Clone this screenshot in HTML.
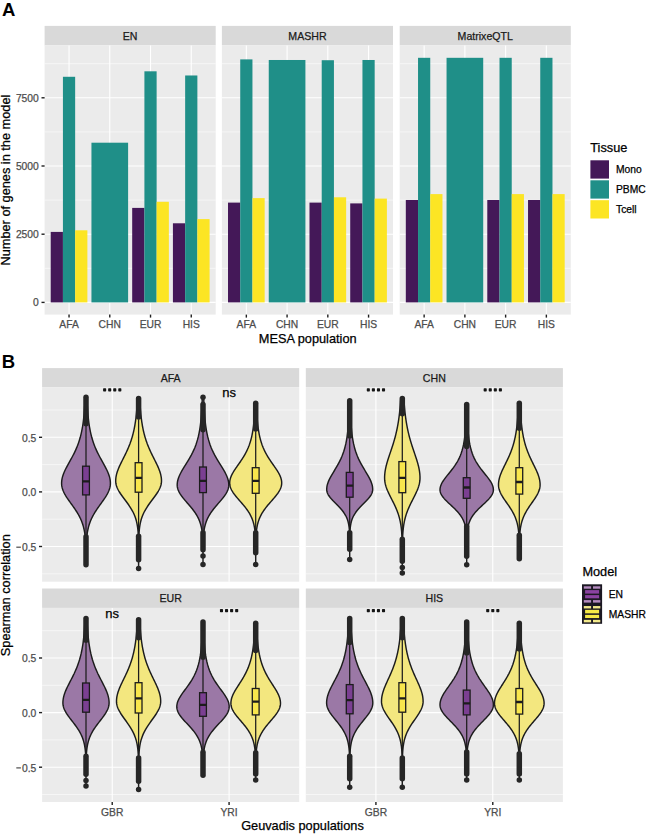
<!DOCTYPE html>
<html><head><meta charset="utf-8"><style>
html,body{margin:0;padding:0;background:#fff;}
svg{display:block;font-family:"Liberation Sans", sans-serif;}
</style></head><body>
<svg width="646" height="838" viewBox="0 0 646 838">
<rect width="646" height="838" fill="#fff"/>
<text x="1.9" y="16" font-size="18.5" fill="#000" font-weight="bold">A</text>
<rect x="44.6" y="25.9" width="171.1" height="19.5" fill="#D9D9D9"/>
<text x="130.15" y="39.8" font-size="10.6" fill="#1A1A1A" stroke="#1A1A1A" stroke-width="0.25" text-anchor="middle" font-weight="normal" >EN</text>
<rect x="44.6" y="45.4" width="171.1" height="269.2" fill="#EBEBEB"/>
<line x1="44.6" x2="215.7" y1="268.3" y2="268.3" stroke="#fff" stroke-width="0.55"/>
<line x1="44.6" x2="215.7" y1="200.1" y2="200.1" stroke="#fff" stroke-width="0.55"/>
<line x1="44.6" x2="215.7" y1="131.9" y2="131.9" stroke="#fff" stroke-width="0.55"/>
<line x1="44.6" x2="215.7" y1="63.7" y2="63.7" stroke="#fff" stroke-width="0.55"/>
<line x1="44.6" x2="215.7" y1="302.4" y2="302.4" stroke="#fff" stroke-width="1.1"/>
<line x1="44.6" x2="215.7" y1="234.2" y2="234.2" stroke="#fff" stroke-width="1.1"/>
<line x1="44.6" x2="215.7" y1="166" y2="166" stroke="#fff" stroke-width="1.1"/>
<line x1="44.6" x2="215.7" y1="97.8" y2="97.8" stroke="#fff" stroke-width="1.1"/>
<line x1="69.04" x2="69.04" y1="45.4" y2="314.6" stroke="#fff" stroke-width="1.1"/>
<line x1="109.78" x2="109.78" y1="45.4" y2="314.6" stroke="#fff" stroke-width="1.1"/>
<line x1="150.52" x2="150.52" y1="45.4" y2="314.6" stroke="#fff" stroke-width="1.1"/>
<line x1="191.26" x2="191.26" y1="45.4" y2="314.6" stroke="#fff" stroke-width="1.1"/>
<rect x="50.71" y="231.91" width="12.22" height="70.49" fill="#441858"/>
<rect x="62.93" y="76.79" width="12.22" height="225.61" fill="#1F8F88"/>
<rect x="75.15" y="230.3" width="12.22" height="72.1" fill="#FCE524"/>
<line x1="69.04" x2="69.04" y1="314.6" y2="317.6" stroke="#1F1F1F" stroke-width="1.4"/>
<text x="69.04" y="328.2" font-size="10.3" fill="#4D4D4D" stroke="#4D4D4D" stroke-width="0.25" text-anchor="middle" font-weight="normal" >AFA</text>
<rect x="91.45" y="142.7" width="36.66" height="159.7" fill="#1F8F88"/>
<line x1="109.78" x2="109.78" y1="314.6" y2="317.6" stroke="#1F1F1F" stroke-width="1.4"/>
<text x="109.78" y="328.2" font-size="10.3" fill="#4D4D4D" stroke="#4D4D4D" stroke-width="0.25" text-anchor="middle" font-weight="normal" >CHN</text>
<rect x="132.19" y="207.9" width="12.22" height="94.5" fill="#441858"/>
<rect x="144.41" y="71.31" width="12.22" height="231.09" fill="#1F8F88"/>
<rect x="156.63" y="201.79" width="12.22" height="100.61" fill="#FCE524"/>
<line x1="150.52" x2="150.52" y1="314.6" y2="317.6" stroke="#1F1F1F" stroke-width="1.4"/>
<text x="150.52" y="328.2" font-size="10.3" fill="#4D4D4D" stroke="#4D4D4D" stroke-width="0.25" text-anchor="middle" font-weight="normal" >EUR</text>
<rect x="172.92" y="223.29" width="12.22" height="79.11" fill="#441858"/>
<rect x="185.15" y="75.48" width="12.22" height="226.92" fill="#1F8F88"/>
<rect x="197.37" y="219.09" width="12.22" height="83.31" fill="#FCE524"/>
<line x1="191.26" x2="191.26" y1="314.6" y2="317.6" stroke="#1F1F1F" stroke-width="1.4"/>
<text x="191.26" y="328.2" font-size="10.3" fill="#4D4D4D" stroke="#4D4D4D" stroke-width="0.25" text-anchor="middle" font-weight="normal" >HIS</text>
<rect x="221.9" y="25.9" width="171.1" height="19.5" fill="#D9D9D9"/>
<text x="307.45" y="39.8" font-size="10.6" fill="#1A1A1A" stroke="#1A1A1A" stroke-width="0.25" text-anchor="middle" font-weight="normal" >MASHR</text>
<rect x="221.9" y="45.4" width="171.1" height="269.2" fill="#EBEBEB"/>
<line x1="221.9" x2="393" y1="268.3" y2="268.3" stroke="#fff" stroke-width="0.55"/>
<line x1="221.9" x2="393" y1="200.1" y2="200.1" stroke="#fff" stroke-width="0.55"/>
<line x1="221.9" x2="393" y1="131.9" y2="131.9" stroke="#fff" stroke-width="0.55"/>
<line x1="221.9" x2="393" y1="63.7" y2="63.7" stroke="#fff" stroke-width="0.55"/>
<line x1="221.9" x2="393" y1="302.4" y2="302.4" stroke="#fff" stroke-width="1.1"/>
<line x1="221.9" x2="393" y1="234.2" y2="234.2" stroke="#fff" stroke-width="1.1"/>
<line x1="221.9" x2="393" y1="166" y2="166" stroke="#fff" stroke-width="1.1"/>
<line x1="221.9" x2="393" y1="97.8" y2="97.8" stroke="#fff" stroke-width="1.1"/>
<line x1="246.34" x2="246.34" y1="45.4" y2="314.6" stroke="#fff" stroke-width="1.1"/>
<line x1="287.08" x2="287.08" y1="45.4" y2="314.6" stroke="#fff" stroke-width="1.1"/>
<line x1="327.82" x2="327.82" y1="45.4" y2="314.6" stroke="#fff" stroke-width="1.1"/>
<line x1="368.56" x2="368.56" y1="45.4" y2="314.6" stroke="#fff" stroke-width="1.1"/>
<rect x="228.01" y="202.61" width="12.22" height="99.79" fill="#441858"/>
<rect x="240.23" y="59.39" width="12.22" height="243.01" fill="#1F8F88"/>
<rect x="252.45" y="198.11" width="12.22" height="104.29" fill="#FCE524"/>
<line x1="246.34" x2="246.34" y1="314.6" y2="317.6" stroke="#1F1F1F" stroke-width="1.4"/>
<text x="246.34" y="328.2" font-size="10.3" fill="#4D4D4D" stroke="#4D4D4D" stroke-width="0.25" text-anchor="middle" font-weight="normal" >AFA</text>
<rect x="268.75" y="59.99" width="36.66" height="242.41" fill="#1F8F88"/>
<line x1="287.08" x2="287.08" y1="314.6" y2="317.6" stroke="#1F1F1F" stroke-width="1.4"/>
<text x="287.08" y="328.2" font-size="10.3" fill="#4D4D4D" stroke="#4D4D4D" stroke-width="0.25" text-anchor="middle" font-weight="normal" >CHN</text>
<rect x="309.49" y="202.61" width="12.22" height="99.79" fill="#441858"/>
<rect x="321.71" y="60.21" width="12.22" height="242.19" fill="#1F8F88"/>
<rect x="333.93" y="197.29" width="12.22" height="105.11" fill="#FCE524"/>
<line x1="327.82" x2="327.82" y1="314.6" y2="317.6" stroke="#1F1F1F" stroke-width="1.4"/>
<text x="327.82" y="328.2" font-size="10.3" fill="#4D4D4D" stroke="#4D4D4D" stroke-width="0.25" text-anchor="middle" font-weight="normal" >EUR</text>
<rect x="350.22" y="203.4" width="12.22" height="99" fill="#441858"/>
<rect x="362.45" y="59.99" width="12.22" height="242.41" fill="#1F8F88"/>
<rect x="374.67" y="198.6" width="12.22" height="103.8" fill="#FCE524"/>
<line x1="368.56" x2="368.56" y1="314.6" y2="317.6" stroke="#1F1F1F" stroke-width="1.4"/>
<text x="368.56" y="328.2" font-size="10.3" fill="#4D4D4D" stroke="#4D4D4D" stroke-width="0.25" text-anchor="middle" font-weight="normal" >HIS</text>
<rect x="399.7" y="25.9" width="171.1" height="19.5" fill="#D9D9D9"/>
<text x="485.25" y="39.8" font-size="10.6" fill="#1A1A1A" stroke="#1A1A1A" stroke-width="0.25" text-anchor="middle" font-weight="normal" >MatrixeQTL</text>
<rect x="399.7" y="45.4" width="171.1" height="269.2" fill="#EBEBEB"/>
<line x1="399.7" x2="570.8" y1="268.3" y2="268.3" stroke="#fff" stroke-width="0.55"/>
<line x1="399.7" x2="570.8" y1="200.1" y2="200.1" stroke="#fff" stroke-width="0.55"/>
<line x1="399.7" x2="570.8" y1="131.9" y2="131.9" stroke="#fff" stroke-width="0.55"/>
<line x1="399.7" x2="570.8" y1="63.7" y2="63.7" stroke="#fff" stroke-width="0.55"/>
<line x1="399.7" x2="570.8" y1="302.4" y2="302.4" stroke="#fff" stroke-width="1.1"/>
<line x1="399.7" x2="570.8" y1="234.2" y2="234.2" stroke="#fff" stroke-width="1.1"/>
<line x1="399.7" x2="570.8" y1="166" y2="166" stroke="#fff" stroke-width="1.1"/>
<line x1="399.7" x2="570.8" y1="97.8" y2="97.8" stroke="#fff" stroke-width="1.1"/>
<line x1="424.14" x2="424.14" y1="45.4" y2="314.6" stroke="#fff" stroke-width="1.1"/>
<line x1="464.88" x2="464.88" y1="45.4" y2="314.6" stroke="#fff" stroke-width="1.1"/>
<line x1="505.62" x2="505.62" y1="45.4" y2="314.6" stroke="#fff" stroke-width="1.1"/>
<line x1="546.36" x2="546.36" y1="45.4" y2="314.6" stroke="#fff" stroke-width="1.1"/>
<rect x="405.81" y="199.99" width="12.22" height="102.41" fill="#441858"/>
<rect x="418.03" y="57.81" width="12.22" height="244.59" fill="#1F8F88"/>
<rect x="430.25" y="194.1" width="12.22" height="108.3" fill="#FCE524"/>
<line x1="424.14" x2="424.14" y1="314.6" y2="317.6" stroke="#1F1F1F" stroke-width="1.4"/>
<text x="424.14" y="328.2" font-size="10.3" fill="#4D4D4D" stroke="#4D4D4D" stroke-width="0.25" text-anchor="middle" font-weight="normal" >AFA</text>
<rect x="446.55" y="57.81" width="36.66" height="244.59" fill="#1F8F88"/>
<line x1="464.88" x2="464.88" y1="314.6" y2="317.6" stroke="#1F1F1F" stroke-width="1.4"/>
<text x="464.88" y="328.2" font-size="10.3" fill="#4D4D4D" stroke="#4D4D4D" stroke-width="0.25" text-anchor="middle" font-weight="normal" >CHN</text>
<rect x="487.29" y="199.99" width="12.22" height="102.41" fill="#441858"/>
<rect x="499.51" y="57.81" width="12.22" height="244.59" fill="#1F8F88"/>
<rect x="511.73" y="194.1" width="12.22" height="108.3" fill="#FCE524"/>
<line x1="505.62" x2="505.62" y1="314.6" y2="317.6" stroke="#1F1F1F" stroke-width="1.4"/>
<text x="505.62" y="328.2" font-size="10.3" fill="#4D4D4D" stroke="#4D4D4D" stroke-width="0.25" text-anchor="middle" font-weight="normal" >EUR</text>
<rect x="528.03" y="199.99" width="12.22" height="102.41" fill="#441858"/>
<rect x="540.25" y="57.81" width="12.22" height="244.59" fill="#1F8F88"/>
<rect x="552.47" y="194.1" width="12.22" height="108.3" fill="#FCE524"/>
<line x1="546.36" x2="546.36" y1="314.6" y2="317.6" stroke="#1F1F1F" stroke-width="1.4"/>
<text x="546.36" y="328.2" font-size="10.3" fill="#4D4D4D" stroke="#4D4D4D" stroke-width="0.25" text-anchor="middle" font-weight="normal" >HIS</text>
<line x1="41.5" x2="44.6" y1="302.4" y2="302.4" stroke="#1F1F1F" stroke-width="1.4"/>
<text x="38.8" y="306.2" font-size="10.3" fill="#4D4D4D" stroke="#4D4D4D" stroke-width="0.25" text-anchor="end" font-weight="normal" >0</text>
<line x1="41.5" x2="44.6" y1="234.2" y2="234.2" stroke="#1F1F1F" stroke-width="1.4"/>
<text x="38.8" y="238" font-size="10.3" fill="#4D4D4D" stroke="#4D4D4D" stroke-width="0.25" text-anchor="end" font-weight="normal" >2500</text>
<line x1="41.5" x2="44.6" y1="166" y2="166" stroke="#1F1F1F" stroke-width="1.4"/>
<text x="38.8" y="169.8" font-size="10.3" fill="#4D4D4D" stroke="#4D4D4D" stroke-width="0.25" text-anchor="end" font-weight="normal" >5000</text>
<line x1="41.5" x2="44.6" y1="97.8" y2="97.8" stroke="#1F1F1F" stroke-width="1.4"/>
<text x="38.8" y="101.6" font-size="10.3" fill="#4D4D4D" stroke="#4D4D4D" stroke-width="0.25" text-anchor="end" font-weight="normal" >7500</text>
<text x="307.7" y="342.5" font-size="12.75" fill="#000" stroke="#000" stroke-width="0.25" text-anchor="middle" font-weight="normal" >MESA population</text>
<text transform="translate(9.9,180.1) rotate(-90)" x="0" y="0" font-size="12.75" fill="#000" stroke="#000" stroke-width="0.25" text-anchor="middle">Number of genes in the model</text>
<text x="590.3" y="152" font-size="12.75" fill="#000" stroke="#000" stroke-width="0.25" text-anchor="start" font-weight="normal" >Tissue</text>
<rect x="590.4" y="160.3" width="18.6" height="18.3" fill="#441858"/>
<text x="616" y="173.3" font-size="10.3" fill="#000" stroke="#000" stroke-width="0.25" text-anchor="start" font-weight="normal" >Mono</text>
<rect x="590.4" y="180.3" width="18.6" height="18.3" fill="#1F8F88"/>
<text x="616" y="193.3" font-size="10.3" fill="#000" stroke="#000" stroke-width="0.25" text-anchor="start" font-weight="normal" >PBMC</text>
<rect x="590.4" y="200.2" width="18.6" height="18.3" fill="#FCE524"/>
<text x="616" y="213.2" font-size="10.3" fill="#000" stroke="#000" stroke-width="0.25" text-anchor="start" font-weight="normal" >Tcell</text>
<text x="1.7" y="368" font-size="18.5" fill="#000" font-weight="bold">B</text>
<rect x="42.1" y="368.1" width="257.1" height="19" fill="#D9D9D9"/>
<text x="170.65" y="381.7" font-size="10.6" fill="#1A1A1A" stroke="#1A1A1A" stroke-width="0.25" text-anchor="middle" font-weight="normal" >AFA</text>
<rect x="42.1" y="387.1" width="257.1" height="194.6" fill="#EBEBEB"/>
<line x1="42.1" x2="299.2" y1="573.8" y2="573.8" stroke="#fff" stroke-width="0.55"/>
<line x1="42.1" x2="299.2" y1="519.2" y2="519.2" stroke="#fff" stroke-width="0.55"/>
<line x1="42.1" x2="299.2" y1="464.6" y2="464.6" stroke="#fff" stroke-width="0.55"/>
<line x1="42.1" x2="299.2" y1="410" y2="410" stroke="#fff" stroke-width="0.55"/>
<line x1="42.1" x2="299.2" y1="546.5" y2="546.5" stroke="#fff" stroke-width="1.1"/>
<line x1="42.1" x2="299.2" y1="491.9" y2="491.9" stroke="#fff" stroke-width="1.1"/>
<line x1="42.1" x2="299.2" y1="437.3" y2="437.3" stroke="#fff" stroke-width="1.1"/>
<line x1="112.22" x2="112.22" y1="387.1" y2="581.7" stroke="#fff" stroke-width="1.1"/>
<line x1="229.08" x2="229.08" y1="387.1" y2="581.7" stroke="#fff" stroke-width="1.1"/>
<g clip-path="url(#clipB00)">
<clipPath id="clipB00"><rect x="42.1" y="387.1" width="257.1" height="194.6"/></clipPath>
<path d="M86.9,397.25 L86.95,398.48 L87,399.71 L87.06,400.94 L87.12,402.17 L87.18,403.4 L87.24,404.63 L87.31,405.86 L87.39,407.08 L87.47,408.31 L87.55,409.54 L87.64,410.77 L87.73,412 L87.83,413.23 L87.94,414.46 L88.05,415.69 L88.18,416.92 L88.3,418.15 L88.44,419.38 L88.59,420.61 L88.74,421.84 L88.91,423.06 L89.08,424.29 L89.27,425.52 L89.47,426.75 L89.68,427.98 L89.9,429.21 L90.14,430.44 L90.39,431.67 L90.66,432.9 L90.94,434.13 L91.24,435.36 L91.56,436.59 L91.89,437.82 L92.25,439.05 L92.62,440.27 L93.02,441.5 L93.43,442.73 L93.87,443.96 L94.33,445.19 L94.81,446.42 L95.31,447.65 L95.84,448.88 L96.38,450.11 L96.95,451.34 L97.54,452.57 L98.14,453.8 L98.77,455.03 L99.41,456.26 L100.07,457.49 L100.73,458.71 L101.41,459.94 L102.1,461.17 L102.78,462.4 L103.47,463.63 L104.15,464.86 L104.82,466.09 L105.47,467.32 L106.11,468.55 L106.72,469.78 L107.3,471.01 L107.84,472.24 L108.35,473.47 L108.81,474.69 L109.21,475.92 L109.57,477.15 L109.86,478.38 L110.1,479.61 L110.26,480.84 L110.37,482.07 L110.4,483.3 L110.36,484.47 L110.24,485.63 L110.05,486.8 L109.78,487.96 L109.43,489.12 L109.02,490.29 L108.54,491.46 L108,492.62 L107.41,493.79 L106.76,494.95 L106.07,496.12 L105.34,497.28 L104.57,498.44 L103.78,499.61 L102.97,500.78 L102.14,501.94 L101.3,503.11 L100.46,504.27 L99.62,505.44 L98.79,506.6 L97.97,507.76 L97.17,508.93 L96.39,510.1 L95.63,511.26 L94.89,512.43 L94.19,513.59 L93.52,514.75 L92.88,515.92 L92.27,517.09 L91.7,518.25 L91.17,519.41 L90.67,520.58 L90.2,521.75 L89.77,522.91 L89.38,524.08 L89.01,525.24 L88.67,526.4 L88.37,527.57 L88.09,528.74 L87.84,529.9 L87.62,531.07 L87.41,532.23 L87.23,533.39 L87.07,534.56 L86.93,535.73 L86.8,536.89 L86.69,538.06 L86.59,539.22 L86.51,540.38 L86.43,541.55 L86.37,542.72 L86.31,543.88 L86.26,545.05 L86.22,546.21 L86.18,547.38 L86.15,548.54 L86.13,549.71 L86.11,550.87 L86.09,552.04 L86.07,553.2 L86.06,554.37 L86.05,555.53 L86.04,556.7 L86.03,557.86 L86.03,559.02 L86.02,560.19 L86.02,561.36 L86.01,562.52 L86.01,563.69 L86.01,564.85 L85.99,564.85 L85.99,563.69 L85.99,562.52 L85.98,561.36 L85.98,560.19 L85.97,559.02 L85.97,557.86 L85.96,556.7 L85.95,555.53 L85.94,554.37 L85.93,553.2 L85.91,552.04 L85.89,550.87 L85.87,549.71 L85.85,548.54 L85.82,547.38 L85.78,546.21 L85.74,545.05 L85.69,543.88 L85.63,542.72 L85.57,541.55 L85.49,540.38 L85.41,539.22 L85.31,538.06 L85.2,536.89 L85.07,535.73 L84.93,534.56 L84.77,533.39 L84.59,532.23 L84.38,531.07 L84.16,529.9 L83.91,528.74 L83.63,527.57 L83.33,526.4 L82.99,525.24 L82.62,524.08 L82.23,522.91 L81.8,521.75 L81.33,520.58 L80.83,519.41 L80.3,518.25 L79.73,517.09 L79.12,515.92 L78.48,514.75 L77.81,513.59 L77.11,512.43 L76.37,511.26 L75.61,510.1 L74.83,508.93 L74.03,507.76 L73.21,506.6 L72.38,505.44 L71.54,504.27 L70.7,503.11 L69.86,501.94 L69.03,500.78 L68.22,499.61 L67.43,498.44 L66.66,497.28 L65.93,496.12 L65.24,494.95 L64.59,493.79 L64,492.62 L63.46,491.46 L62.98,490.29 L62.57,489.12 L62.22,487.96 L61.95,486.8 L61.76,485.63 L61.64,484.47 L61.6,483.3 L61.63,482.07 L61.74,480.84 L61.9,479.61 L62.14,478.38 L62.43,477.15 L62.79,475.92 L63.19,474.69 L63.65,473.47 L64.16,472.24 L64.7,471.01 L65.28,469.78 L65.89,468.55 L66.53,467.32 L67.18,466.09 L67.85,464.86 L68.53,463.63 L69.22,462.4 L69.9,461.17 L70.59,459.94 L71.27,458.71 L71.93,457.49 L72.59,456.26 L73.23,455.03 L73.86,453.8 L74.46,452.57 L75.05,451.34 L75.62,450.11 L76.16,448.88 L76.69,447.65 L77.19,446.42 L77.67,445.19 L78.13,443.96 L78.57,442.73 L78.98,441.5 L79.38,440.27 L79.75,439.05 L80.11,437.82 L80.44,436.59 L80.76,435.36 L81.06,434.13 L81.34,432.9 L81.61,431.67 L81.86,430.44 L82.1,429.21 L82.32,427.98 L82.53,426.75 L82.73,425.52 L82.92,424.29 L83.09,423.06 L83.26,421.84 L83.41,420.61 L83.56,419.38 L83.7,418.15 L83.82,416.92 L83.95,415.69 L84.06,414.46 L84.17,413.23 L84.27,412 L84.36,410.77 L84.45,409.54 L84.53,408.31 L84.61,407.08 L84.69,405.86 L84.76,404.63 L84.82,403.4 L84.88,402.17 L84.94,400.94 L85,399.71 L85.05,398.48 L85.1,397.25Z" fill="#9B78A6" stroke="#1C1C1C" stroke-width="1.45" stroke-linejoin="round"/>
<line x1="86" x2="86" y1="425.9" y2="534.5" stroke="#1C1C1C" stroke-width="1.25"/>
<rect x="82.6" y="466.2" width="6.8" height="28.7" fill="#7B3F92" stroke="#1C1C1C" stroke-width="1.3"/>
<line x1="82.6" x2="89.4" y1="481.4" y2="481.4" stroke="#1C1C1C" stroke-width="2.3"/>
<line x1="86" x2="86" y1="397.25" y2="423.65" stroke="#262626" stroke-width="5.5" stroke-linecap="round"/>
<line x1="86" x2="86" y1="536.75" y2="564.85" stroke="#262626" stroke-width="5.5" stroke-linecap="round"/>
<path d="M139.73,398.45 L139.78,399.63 L139.84,400.81 L139.91,401.99 L139.98,403.17 L140.05,404.35 L140.13,405.53 L140.21,406.7 L140.29,407.88 L140.39,409.06 L140.48,410.24 L140.58,411.42 L140.69,412.6 L140.81,413.78 L140.93,414.96 L141.06,416.14 L141.19,417.32 L141.33,418.5 L141.49,419.68 L141.65,420.86 L141.82,422.04 L142,423.21 L142.19,424.39 L142.39,425.57 L142.6,426.75 L142.83,427.93 L143.06,429.11 L143.31,430.29 L143.58,431.47 L143.86,432.65 L144.15,433.83 L144.46,435.01 L144.78,436.19 L145.12,437.37 L145.48,438.55 L145.85,439.73 L146.24,440.9 L146.65,442.08 L147.07,443.26 L147.52,444.44 L147.98,445.62 L148.46,446.8 L148.95,447.98 L149.46,449.16 L149.99,450.34 L150.53,451.52 L151.08,452.7 L151.65,453.88 L152.23,455.06 L152.81,456.24 L153.4,457.41 L153.99,458.59 L154.59,459.77 L155.18,460.95 L155.77,462.13 L156.35,463.31 L156.92,464.49 L157.47,465.67 L158,466.85 L158.5,468.03 L158.98,469.21 L159.43,470.39 L159.84,471.57 L160.21,472.75 L160.55,473.92 L160.83,475.1 L161.07,476.28 L161.26,477.46 L161.39,478.64 L161.47,479.82 L161.5,481 L161.45,482.25 L161.29,483.5 L161.03,484.75 L160.68,486.01 L160.23,487.26 L159.69,488.51 L159.07,489.76 L158.38,491.01 L157.63,492.26 L156.82,493.51 L155.96,494.77 L155.07,496.02 L154.16,497.27 L153.22,498.52 L152.29,499.77 L151.35,501.02 L150.42,502.27 L149.51,503.53 L148.63,504.78 L147.77,506.03 L146.95,507.28 L146.17,508.53 L145.43,509.78 L144.73,511.03 L144.08,512.29 L143.48,513.54 L142.92,514.79 L142.41,516.04 L141.94,517.29 L141.52,518.54 L141.14,519.79 L140.8,521.05 L140.5,522.3 L140.23,523.55 L139.99,524.8 L139.78,526.05 L139.6,527.3 L139.44,528.55 L139.31,529.81 L139.19,531.06 L139.09,532.31 L139,533.56 L138.93,534.81 L138.87,536.06 L138.82,537.31 L138.78,538.57 L138.75,539.82 L138.72,541.07 L138.69,542.32 L138.68,543.57 L138.66,544.82 L138.65,546.07 L138.64,547.33 L138.63,548.58 L138.62,549.83 L138.62,551.08 L138.61,552.33 L138.61,553.58 L138.61,554.83 L138.61,556.09 L138.6,557.34 L138.6,558.59 L138.6,559.84 L138.6,561.09 L138.6,562.34 L138.6,563.59 L138.6,564.85 L138.6,566.1 L138.6,567.35 L138.6,568.6 L138.6,568.6 L138.6,567.35 L138.6,566.1 L138.6,564.85 L138.6,563.59 L138.6,562.34 L138.6,561.09 L138.6,559.84 L138.6,558.59 L138.6,557.34 L138.59,556.09 L138.59,554.83 L138.59,553.58 L138.59,552.33 L138.58,551.08 L138.58,549.83 L138.57,548.58 L138.56,547.33 L138.55,546.07 L138.54,544.82 L138.52,543.57 L138.51,542.32 L138.48,541.07 L138.45,539.82 L138.42,538.57 L138.38,537.31 L138.33,536.06 L138.27,534.81 L138.2,533.56 L138.11,532.31 L138.01,531.06 L137.89,529.81 L137.76,528.55 L137.6,527.3 L137.42,526.05 L137.21,524.8 L136.97,523.55 L136.7,522.3 L136.4,521.05 L136.06,519.79 L135.68,518.54 L135.26,517.29 L134.79,516.04 L134.28,514.79 L133.72,513.54 L133.12,512.29 L132.47,511.03 L131.77,509.78 L131.03,508.53 L130.25,507.28 L129.43,506.03 L128.57,504.78 L127.69,503.53 L126.78,502.27 L125.85,501.02 L124.91,499.77 L123.98,498.52 L123.04,497.27 L122.13,496.02 L121.24,494.77 L120.38,493.51 L119.57,492.26 L118.82,491.01 L118.13,489.76 L117.51,488.51 L116.97,487.26 L116.52,486.01 L116.17,484.75 L115.91,483.5 L115.75,482.25 L115.7,481 L115.73,479.82 L115.81,478.64 L115.94,477.46 L116.13,476.28 L116.37,475.1 L116.65,473.92 L116.99,472.75 L117.36,471.57 L117.77,470.39 L118.22,469.21 L118.7,468.03 L119.2,466.85 L119.73,465.67 L120.28,464.49 L120.85,463.31 L121.43,462.13 L122.02,460.95 L122.61,459.77 L123.21,458.59 L123.8,457.41 L124.39,456.24 L124.97,455.06 L125.55,453.88 L126.12,452.7 L126.67,451.52 L127.21,450.34 L127.74,449.16 L128.25,447.98 L128.74,446.8 L129.22,445.62 L129.68,444.44 L130.13,443.26 L130.55,442.08 L130.96,440.9 L131.35,439.73 L131.72,438.55 L132.08,437.37 L132.42,436.19 L132.74,435.01 L133.05,433.83 L133.34,432.65 L133.62,431.47 L133.89,430.29 L134.14,429.11 L134.37,427.93 L134.6,426.75 L134.81,425.57 L135.01,424.39 L135.2,423.21 L135.38,422.04 L135.55,420.86 L135.71,419.68 L135.87,418.5 L136.01,417.32 L136.14,416.14 L136.27,414.96 L136.39,413.78 L136.51,412.6 L136.62,411.42 L136.72,410.24 L136.81,409.06 L136.91,407.88 L136.99,406.7 L137.07,405.53 L137.15,404.35 L137.22,403.17 L137.29,401.99 L137.36,400.81 L137.42,399.63 L137.47,398.45Z" fill="#F3E77F" stroke="#1C1C1C" stroke-width="1.45" stroke-linejoin="round"/>
<line x1="138.6" x2="138.6" y1="419.3" y2="534.1" stroke="#1C1C1C" stroke-width="1.25"/>
<rect x="135.2" y="462.7" width="6.8" height="29.5" fill="#F8E64C" stroke="#1C1C1C" stroke-width="1.3"/>
<line x1="135.2" x2="142" y1="477.8" y2="477.8" stroke="#1C1C1C" stroke-width="2.3"/>
<line x1="138.6" x2="138.6" y1="398.45" y2="417.05" stroke="#262626" stroke-width="5.5" stroke-linecap="round"/>
<line x1="138.6" x2="138.6" y1="536.35" y2="559.65" stroke="#262626" stroke-width="5.5" stroke-linecap="round"/>
<circle cx="138.6" cy="568.6" r="2.75" fill="#262626"/>
<path d="M203.71,397.3 L203.75,398.55 L203.79,399.81 L203.84,401.06 L203.89,402.31 L203.94,403.56 L203.99,404.82 L204.05,406.07 L204.12,407.32 L204.18,408.58 L204.25,409.83 L204.33,411.08 L204.41,412.33 L204.5,413.59 L204.59,414.84 L204.69,416.09 L204.79,417.35 L204.9,418.6 L205.02,419.85 L205.15,421.1 L205.29,422.36 L205.44,423.61 L205.59,424.86 L205.76,426.12 L205.94,427.37 L206.13,428.62 L206.34,429.87 L206.56,431.13 L206.79,432.38 L207.04,433.63 L207.31,434.89 L207.59,436.14 L207.9,437.39 L208.22,438.64 L208.56,439.9 L208.93,441.15 L209.32,442.4 L209.73,443.66 L210.16,444.91 L210.63,446.16 L211.11,447.41 L211.63,448.67 L212.17,449.92 L212.74,451.17 L213.33,452.43 L213.96,453.68 L214.6,454.93 L215.28,456.18 L215.98,457.44 L216.7,458.69 L217.43,459.94 L218.19,461.2 L218.96,462.45 L219.74,463.7 L220.52,464.95 L221.31,466.21 L222.09,467.46 L222.85,468.71 L223.6,469.97 L224.33,471.22 L225.02,472.47 L225.68,473.72 L226.29,474.98 L226.84,476.23 L227.34,477.48 L227.78,478.74 L228.14,479.99 L228.42,481.24 L228.63,482.49 L228.76,483.75 L228.8,485 L228.75,486.13 L228.6,487.27 L228.34,488.4 L227.99,489.54 L227.55,490.67 L227.02,491.81 L226.41,492.94 L225.72,494.07 L224.97,495.21 L224.15,496.34 L223.29,497.48 L222.38,498.61 L221.45,499.75 L220.48,500.88 L219.5,502.01 L218.52,503.15 L217.54,504.28 L216.56,505.42 L215.6,506.55 L214.66,507.69 L213.75,508.82 L212.87,509.95 L212.03,511.09 L211.22,512.22 L210.46,513.36 L209.74,514.49 L209.07,515.63 L208.44,516.76 L207.86,517.89 L207.32,519.03 L206.83,520.16 L206.38,521.3 L205.97,522.43 L205.6,523.57 L205.27,524.7 L204.97,525.83 L204.7,526.97 L204.47,528.1 L204.26,529.24 L204.08,530.37 L203.92,531.51 L203.78,532.64 L203.66,533.77 L203.55,534.91 L203.46,536.04 L203.39,537.18 L203.32,538.31 L203.27,539.45 L203.22,540.58 L203.18,541.71 L203.15,542.85 L203.12,543.98 L203.1,545.12 L203.08,546.25 L203.06,547.39 L203.05,548.52 L203.04,549.65 L203.03,550.79 L203.03,551.92 L203.02,553.06 L203.02,554.19 L203.01,555.33 L203.01,556.46 L203.01,557.59 L203.01,558.73 L203,559.86 L203,561 L203,562.13 L203,563.27 L203,564.4 L203,564.4 L203,563.27 L203,562.13 L203,561 L203,559.86 L202.99,558.73 L202.99,557.59 L202.99,556.46 L202.99,555.33 L202.98,554.19 L202.98,553.06 L202.97,551.92 L202.97,550.79 L202.96,549.65 L202.95,548.52 L202.94,547.39 L202.92,546.25 L202.9,545.12 L202.88,543.98 L202.85,542.85 L202.82,541.71 L202.78,540.58 L202.73,539.45 L202.68,538.31 L202.61,537.18 L202.54,536.04 L202.45,534.91 L202.34,533.77 L202.22,532.64 L202.08,531.51 L201.92,530.37 L201.74,529.24 L201.53,528.1 L201.3,526.97 L201.03,525.83 L200.73,524.7 L200.4,523.57 L200.03,522.43 L199.62,521.3 L199.17,520.16 L198.68,519.03 L198.14,517.89 L197.56,516.76 L196.93,515.63 L196.26,514.49 L195.54,513.36 L194.78,512.22 L193.97,511.09 L193.13,509.95 L192.25,508.82 L191.34,507.69 L190.4,506.55 L189.44,505.42 L188.46,504.28 L187.48,503.15 L186.5,502.01 L185.52,500.88 L184.55,499.75 L183.62,498.61 L182.71,497.48 L181.85,496.34 L181.03,495.21 L180.28,494.07 L179.59,492.94 L178.98,491.81 L178.45,490.67 L178.01,489.54 L177.66,488.4 L177.4,487.27 L177.25,486.13 L177.2,485 L177.24,483.75 L177.37,482.49 L177.58,481.24 L177.86,479.99 L178.22,478.74 L178.66,477.48 L179.16,476.23 L179.71,474.98 L180.32,473.72 L180.98,472.47 L181.67,471.22 L182.4,469.97 L183.15,468.71 L183.91,467.46 L184.69,466.21 L185.48,464.95 L186.26,463.7 L187.04,462.45 L187.81,461.2 L188.57,459.94 L189.3,458.69 L190.02,457.44 L190.72,456.18 L191.4,454.93 L192.04,453.68 L192.67,452.43 L193.26,451.17 L193.83,449.92 L194.37,448.67 L194.89,447.41 L195.37,446.16 L195.84,444.91 L196.27,443.66 L196.68,442.4 L197.07,441.15 L197.44,439.9 L197.78,438.64 L198.1,437.39 L198.41,436.14 L198.69,434.89 L198.96,433.63 L199.21,432.38 L199.44,431.13 L199.66,429.87 L199.87,428.62 L200.06,427.37 L200.24,426.12 L200.41,424.86 L200.56,423.61 L200.71,422.36 L200.85,421.1 L200.98,419.85 L201.1,418.6 L201.21,417.35 L201.31,416.09 L201.41,414.84 L201.5,413.59 L201.59,412.33 L201.67,411.08 L201.75,409.83 L201.82,408.58 L201.88,407.32 L201.95,406.07 L202.01,404.82 L202.06,403.56 L202.11,402.31 L202.16,401.06 L202.21,399.81 L202.25,398.55 L202.29,397.3Z" fill="#9B78A6" stroke="#1C1C1C" stroke-width="1.45" stroke-linejoin="round"/>
<line x1="203" x2="203" y1="432.1" y2="530.6" stroke="#1C1C1C" stroke-width="1.25"/>
<rect x="199.6" y="467" width="6.8" height="25.6" fill="#7B3F92" stroke="#1C1C1C" stroke-width="1.3"/>
<line x1="199.6" x2="206.4" y1="480.9" y2="480.9" stroke="#1C1C1C" stroke-width="2.3"/>
<line x1="203" x2="203" y1="404.45" y2="429.85" stroke="#262626" stroke-width="5.5" stroke-linecap="round"/>
<line x1="203" x2="203" y1="532.85" y2="549.75" stroke="#262626" stroke-width="5.5" stroke-linecap="round"/>
<circle cx="203" cy="397.3" r="2.75" fill="#262626"/>
<circle cx="203" cy="556.1" r="2.75" fill="#262626"/>
<circle cx="203" cy="564.4" r="2.75" fill="#262626"/>
<path d="M256.38,403.25 L256.42,404.39 L256.46,405.53 L256.51,406.67 L256.55,407.81 L256.6,408.95 L256.66,410.09 L256.71,411.23 L256.77,412.36 L256.84,413.5 L256.91,414.64 L256.98,415.78 L257.06,416.92 L257.14,418.06 L257.23,419.2 L257.33,420.34 L257.43,421.48 L257.54,422.62 L257.66,423.76 L257.78,424.9 L257.92,426.04 L258.06,427.18 L258.22,428.31 L258.38,429.45 L258.56,430.59 L258.75,431.73 L258.95,432.87 L259.16,434.01 L259.39,435.15 L259.64,436.29 L259.9,437.43 L260.18,438.57 L260.48,439.71 L260.8,440.85 L261.15,441.99 L261.51,443.12 L261.89,444.26 L262.3,445.4 L262.74,446.54 L263.2,447.68 L263.69,448.82 L264.2,449.96 L264.74,451.1 L265.31,452.24 L265.91,453.38 L266.54,454.52 L267.19,455.66 L267.87,456.8 L268.58,457.94 L269.31,459.07 L270.06,460.21 L270.82,461.35 L271.61,462.49 L272.4,463.63 L273.2,464.77 L274,465.91 L274.8,467.05 L275.58,468.19 L276.35,469.33 L277.09,470.47 L277.81,471.61 L278.48,472.75 L279.11,473.89 L279.68,475.02 L280.2,476.16 L280.64,477.3 L281.02,478.44 L281.31,479.58 L281.53,480.72 L281.66,481.86 L281.7,483 L281.65,484.16 L281.48,485.33 L281.22,486.49 L280.85,487.65 L280.38,488.81 L279.82,489.98 L279.17,491.14 L278.45,492.3 L277.66,493.47 L276.8,494.63 L275.9,495.79 L274.95,496.95 L273.97,498.12 L272.97,499.28 L271.96,500.44 L270.94,501.61 L269.93,502.77 L268.92,503.93 L267.94,505.09 L266.98,506.26 L266.06,507.42 L265.17,508.58 L264.32,509.75 L263.52,510.91 L262.76,512.07 L262.04,513.23 L261.38,514.4 L260.76,515.56 L260.2,516.72 L259.67,517.89 L259.2,519.05 L258.77,520.21 L258.38,521.37 L258.03,522.54 L257.72,523.7 L257.44,524.86 L257.19,526.03 L256.98,527.19 L256.79,528.35 L256.62,529.51 L256.48,530.68 L256.36,531.84 L256.25,533 L256.16,534.17 L256.08,535.33 L256.01,536.49 L255.96,537.65 L255.91,538.82 L255.87,539.98 L255.84,541.14 L255.81,542.31 L255.79,543.47 L255.77,544.63 L255.76,545.79 L255.75,546.96 L255.74,548.12 L255.73,549.28 L255.72,550.45 L255.72,551.61 L255.71,552.77 L255.71,553.93 L255.71,555.1 L255.71,556.26 L255.71,557.42 L255.7,558.59 L255.7,559.75 L255.7,560.91 L255.7,562.07 L255.7,563.24 L255.7,564.4 L255.7,564.4 L255.7,563.24 L255.7,562.07 L255.7,560.91 L255.7,559.75 L255.7,558.59 L255.69,557.42 L255.69,556.26 L255.69,555.1 L255.69,553.93 L255.69,552.77 L255.68,551.61 L255.68,550.45 L255.67,549.28 L255.66,548.12 L255.65,546.96 L255.64,545.79 L255.63,544.63 L255.61,543.47 L255.59,542.31 L255.56,541.14 L255.53,539.98 L255.49,538.82 L255.44,537.65 L255.39,536.49 L255.32,535.33 L255.24,534.17 L255.15,533 L255.04,531.84 L254.92,530.68 L254.78,529.51 L254.61,528.35 L254.42,527.19 L254.21,526.03 L253.96,524.86 L253.68,523.7 L253.37,522.54 L253.02,521.37 L252.63,520.21 L252.2,519.05 L251.73,517.89 L251.2,516.72 L250.64,515.56 L250.02,514.4 L249.36,513.23 L248.64,512.07 L247.88,510.91 L247.08,509.75 L246.23,508.58 L245.34,507.42 L244.42,506.26 L243.46,505.09 L242.48,503.93 L241.47,502.77 L240.46,501.61 L239.44,500.44 L238.43,499.28 L237.43,498.12 L236.45,496.95 L235.5,495.79 L234.6,494.63 L233.74,493.47 L232.95,492.3 L232.23,491.14 L231.58,489.98 L231.02,488.81 L230.55,487.65 L230.18,486.49 L229.92,485.33 L229.75,484.16 L229.7,483 L229.74,481.86 L229.87,480.72 L230.09,479.58 L230.38,478.44 L230.76,477.3 L231.2,476.16 L231.72,475.02 L232.29,473.89 L232.92,472.75 L233.59,471.61 L234.31,470.47 L235.05,469.33 L235.82,468.19 L236.6,467.05 L237.4,465.91 L238.2,464.77 L239,463.63 L239.79,462.49 L240.58,461.35 L241.34,460.21 L242.09,459.07 L242.82,457.94 L243.53,456.8 L244.21,455.66 L244.86,454.52 L245.49,453.38 L246.09,452.24 L246.66,451.1 L247.2,449.96 L247.71,448.82 L248.2,447.68 L248.66,446.54 L249.1,445.4 L249.51,444.26 L249.89,443.12 L250.25,441.99 L250.6,440.85 L250.92,439.71 L251.22,438.57 L251.5,437.43 L251.76,436.29 L252.01,435.15 L252.24,434.01 L252.45,432.87 L252.65,431.73 L252.84,430.59 L253.02,429.45 L253.18,428.31 L253.34,427.18 L253.48,426.04 L253.62,424.9 L253.74,423.76 L253.86,422.62 L253.97,421.48 L254.07,420.34 L254.17,419.2 L254.26,418.06 L254.34,416.92 L254.42,415.78 L254.49,414.64 L254.56,413.5 L254.63,412.36 L254.69,411.23 L254.74,410.09 L254.8,408.95 L254.85,407.81 L254.89,406.67 L254.94,405.53 L254.98,404.39 L255.02,403.25Z" fill="#F3E77F" stroke="#1C1C1C" stroke-width="1.45" stroke-linejoin="round"/>
<line x1="255.7" x2="255.7" y1="431.3" y2="530.6" stroke="#1C1C1C" stroke-width="1.25"/>
<rect x="252.3" y="467.7" width="6.8" height="25.6" fill="#F8E64C" stroke="#1C1C1C" stroke-width="1.3"/>
<line x1="252.3" x2="259.1" y1="480.9" y2="480.9" stroke="#1C1C1C" stroke-width="2.3"/>
<line x1="255.7" x2="255.7" y1="403.25" y2="429.05" stroke="#262626" stroke-width="5.5" stroke-linecap="round"/>
<line x1="255.7" x2="255.7" y1="532.85" y2="552.85" stroke="#262626" stroke-width="5.5" stroke-linecap="round"/>
<circle cx="255.7" cy="564.4" r="2.75" fill="#262626"/>
</g>
<g clip-path="url(#clipB00)">
<rect x="103.08" y="388.3" width="3.1" height="3.1" rx="0.7" fill="#151515"/>
<rect x="108.14" y="388.3" width="3.1" height="3.1" rx="0.7" fill="#151515"/>
<rect x="113.2" y="388.3" width="3.1" height="3.1" rx="0.7" fill="#151515"/>
<rect x="118.26" y="388.3" width="3.1" height="3.1" rx="0.7" fill="#151515"/>
</g>
<g clip-path="url(#clipB00)">
<text x="229.08" y="396.9" font-size="13" fill="#000" stroke="#000" stroke-width="0.25" text-anchor="middle" font-weight="normal" >ns</text>
</g>
<rect x="305.8" y="368.1" width="257.1" height="19" fill="#D9D9D9"/>
<text x="434.35" y="381.7" font-size="10.6" fill="#1A1A1A" stroke="#1A1A1A" stroke-width="0.25" text-anchor="middle" font-weight="normal" >CHN</text>
<rect x="305.8" y="387.1" width="257.1" height="194.6" fill="#EBEBEB"/>
<line x1="305.8" x2="562.9" y1="573.8" y2="573.8" stroke="#fff" stroke-width="0.55"/>
<line x1="305.8" x2="562.9" y1="519.2" y2="519.2" stroke="#fff" stroke-width="0.55"/>
<line x1="305.8" x2="562.9" y1="464.6" y2="464.6" stroke="#fff" stroke-width="0.55"/>
<line x1="305.8" x2="562.9" y1="410" y2="410" stroke="#fff" stroke-width="0.55"/>
<line x1="305.8" x2="562.9" y1="546.5" y2="546.5" stroke="#fff" stroke-width="1.1"/>
<line x1="305.8" x2="562.9" y1="491.9" y2="491.9" stroke="#fff" stroke-width="1.1"/>
<line x1="305.8" x2="562.9" y1="437.3" y2="437.3" stroke="#fff" stroke-width="1.1"/>
<line x1="375.92" x2="375.92" y1="387.1" y2="581.7" stroke="#fff" stroke-width="1.1"/>
<line x1="492.78" x2="492.78" y1="387.1" y2="581.7" stroke="#fff" stroke-width="1.1"/>
<g clip-path="url(#clipB01)">
<clipPath id="clipB01"><rect x="305.8" y="387.1" width="257.1" height="194.6"/></clipPath>
<path d="M350.14,400.85 L350.16,402.12 L350.19,403.38 L350.22,404.65 L350.25,405.92 L350.28,407.18 L350.32,408.45 L350.36,409.72 L350.4,410.98 L350.44,412.25 L350.49,413.51 L350.54,414.78 L350.59,416.05 L350.65,417.31 L350.72,418.58 L350.78,419.85 L350.85,421.11 L350.93,422.38 L351.01,423.65 L351.1,424.91 L351.2,426.18 L351.3,427.44 L351.41,428.71 L351.53,429.98 L351.66,431.24 L351.8,432.51 L351.95,433.78 L352.11,435.04 L352.29,436.31 L352.47,437.58 L352.67,438.84 L352.89,440.11 L353.12,441.38 L353.37,442.64 L353.63,443.91 L353.92,445.18 L354.23,446.44 L354.56,447.71 L354.91,448.97 L355.29,450.24 L355.69,451.51 L356.12,452.77 L356.58,454.04 L357.06,455.31 L357.57,456.57 L358.12,457.84 L358.69,459.11 L359.29,460.37 L359.92,461.64 L360.58,462.9 L361.26,464.17 L361.97,465.44 L362.69,466.7 L363.44,467.97 L364.2,469.24 L364.96,470.5 L365.73,471.77 L366.5,473.04 L367.26,474.3 L368,475.57 L368.71,476.84 L369.39,478.1 L370.03,479.37 L370.61,480.63 L371.14,481.9 L371.6,483.17 L371.99,484.43 L372.3,485.7 L372.52,486.97 L372.65,488.23 L372.7,489.5 L372.64,490.5 L372.47,491.5 L372.18,492.5 L371.78,493.51 L371.28,494.51 L370.68,495.51 L369.99,496.51 L369.23,497.51 L368.4,498.51 L367.51,499.51 L366.58,500.52 L365.61,501.52 L364.63,502.52 L363.63,503.52 L362.63,504.52 L361.65,505.52 L360.68,506.52 L359.74,507.53 L358.83,508.53 L357.97,509.53 L357.14,510.53 L356.37,511.53 L355.64,512.53 L354.97,513.53 L354.35,514.54 L353.78,515.54 L353.26,516.54 L352.79,517.54 L352.38,518.54 L352,519.54 L351.67,520.54 L351.37,521.55 L351.12,522.55 L350.89,523.55 L350.7,524.55 L350.54,525.55 L350.39,526.55 L350.27,527.55 L350.17,528.56 L350.08,529.56 L350.01,530.56 L349.95,531.56 L349.9,532.56 L349.86,533.56 L349.83,534.56 L349.8,535.57 L349.78,536.57 L349.76,537.57 L349.75,538.57 L349.74,539.57 L349.73,540.57 L349.72,541.57 L349.72,542.58 L349.71,543.58 L349.71,544.58 L349.71,545.58 L349.71,546.58 L349.7,547.58 L349.7,548.58 L349.7,549.59 L349.7,550.59 L349.7,551.59 L349.7,552.59 L349.7,553.59 L349.7,554.59 L349.7,555.59 L349.7,556.6 L349.7,557.6 L349.7,558.6 L349.7,559.6 L349.7,559.6 L349.7,558.6 L349.7,557.6 L349.7,556.6 L349.7,555.59 L349.7,554.59 L349.7,553.59 L349.7,552.59 L349.7,551.59 L349.7,550.59 L349.7,549.59 L349.7,548.58 L349.7,547.58 L349.69,546.58 L349.69,545.58 L349.69,544.58 L349.69,543.58 L349.68,542.58 L349.68,541.57 L349.67,540.57 L349.66,539.57 L349.65,538.57 L349.64,537.57 L349.62,536.57 L349.6,535.57 L349.57,534.56 L349.54,533.56 L349.5,532.56 L349.45,531.56 L349.39,530.56 L349.32,529.56 L349.23,528.56 L349.13,527.55 L349.01,526.55 L348.86,525.55 L348.7,524.55 L348.51,523.55 L348.28,522.55 L348.03,521.55 L347.73,520.54 L347.4,519.54 L347.02,518.54 L346.61,517.54 L346.14,516.54 L345.62,515.54 L345.05,514.54 L344.43,513.53 L343.76,512.53 L343.03,511.53 L342.26,510.53 L341.43,509.53 L340.57,508.53 L339.66,507.53 L338.72,506.52 L337.75,505.52 L336.77,504.52 L335.77,503.52 L334.77,502.52 L333.79,501.52 L332.82,500.52 L331.89,499.51 L331,498.51 L330.17,497.51 L329.41,496.51 L328.72,495.51 L328.12,494.51 L327.62,493.51 L327.22,492.5 L326.93,491.5 L326.76,490.5 L326.7,489.5 L326.75,488.23 L326.88,486.97 L327.1,485.7 L327.41,484.43 L327.8,483.17 L328.26,481.9 L328.79,480.63 L329.37,479.37 L330.01,478.1 L330.69,476.84 L331.4,475.57 L332.14,474.3 L332.9,473.04 L333.67,471.77 L334.44,470.5 L335.2,469.24 L335.96,467.97 L336.71,466.7 L337.43,465.44 L338.14,464.17 L338.82,462.9 L339.48,461.64 L340.11,460.37 L340.71,459.11 L341.28,457.84 L341.83,456.57 L342.34,455.31 L342.82,454.04 L343.28,452.77 L343.71,451.51 L344.11,450.24 L344.49,448.97 L344.84,447.71 L345.17,446.44 L345.48,445.18 L345.77,443.91 L346.03,442.64 L346.28,441.38 L346.51,440.11 L346.73,438.84 L346.93,437.58 L347.11,436.31 L347.29,435.04 L347.45,433.78 L347.6,432.51 L347.74,431.24 L347.87,429.98 L347.99,428.71 L348.1,427.44 L348.2,426.18 L348.3,424.91 L348.39,423.65 L348.47,422.38 L348.55,421.11 L348.62,419.85 L348.68,418.58 L348.75,417.31 L348.81,416.05 L348.86,414.78 L348.91,413.51 L348.96,412.25 L349,410.98 L349.04,409.72 L349.08,408.45 L349.12,407.18 L349.15,405.92 L349.18,404.65 L349.21,403.38 L349.24,402.12 L349.26,400.85Z" fill="#9B78A6" stroke="#1C1C1C" stroke-width="1.45" stroke-linejoin="round"/>
<line x1="349.7" x2="349.7" y1="438.3" y2="530.6" stroke="#1C1C1C" stroke-width="1.25"/>
<rect x="346.3" y="472.4" width="6.8" height="24.8" fill="#7B3F92" stroke="#1C1C1C" stroke-width="1.3"/>
<line x1="346.3" x2="353.1" y1="485.6" y2="485.6" stroke="#1C1C1C" stroke-width="2.3"/>
<line x1="349.7" x2="349.7" y1="400.85" y2="436.05" stroke="#262626" stroke-width="5.5" stroke-linecap="round"/>
<line x1="349.7" x2="349.7" y1="532.85" y2="549.25" stroke="#262626" stroke-width="5.5" stroke-linecap="round"/>
<circle cx="349.7" cy="559.6" r="2.75" fill="#262626"/>
<path d="M403.85,398.45 L403.92,399.59 L404,400.72 L404.08,401.86 L404.16,403 L404.24,404.13 L404.33,405.27 L404.43,406.4 L404.53,407.54 L404.63,408.68 L404.74,409.81 L404.85,410.95 L404.97,412.09 L405.1,413.22 L405.23,414.36 L405.37,415.5 L405.51,416.63 L405.66,417.77 L405.82,418.91 L405.98,420.04 L406.15,421.18 L406.33,422.31 L406.52,423.45 L406.72,424.59 L406.92,425.72 L407.14,426.86 L407.36,428 L407.59,429.13 L407.83,430.27 L408.08,431.41 L408.34,432.54 L408.61,433.68 L408.88,434.82 L409.17,435.95 L409.47,437.09 L409.78,438.23 L410.09,439.36 L410.42,440.5 L410.75,441.63 L411.09,442.77 L411.44,443.91 L411.8,445.04 L412.17,446.18 L412.54,447.32 L412.91,448.45 L413.29,449.59 L413.67,450.73 L414.06,451.86 L414.44,453 L414.83,454.13 L415.21,455.27 L415.59,456.41 L415.97,457.54 L416.34,458.68 L416.7,459.82 L417.05,460.95 L417.39,462.09 L417.72,463.23 L418.03,464.36 L418.32,465.5 L418.6,466.64 L418.85,467.77 L419.08,468.91 L419.29,470.05 L419.48,471.18 L419.63,472.32 L419.76,473.45 L419.87,474.59 L419.94,475.73 L419.99,476.86 L420,478 L419.96,479.36 L419.85,480.71 L419.67,482.07 L419.42,483.43 L419.1,484.79 L418.72,486.14 L418.28,487.5 L417.79,488.86 L417.25,490.21 L416.66,491.57 L416.05,492.93 L415.4,494.29 L414.74,495.64 L414.05,497 L413.36,498.36 L412.67,499.71 L411.98,501.07 L411.3,502.43 L410.63,503.79 L409.98,505.14 L409.35,506.5 L408.74,507.86 L408.16,509.21 L407.62,510.57 L407.1,511.93 L406.61,513.29 L406.16,514.64 L405.74,516 L405.36,517.36 L405,518.71 L404.68,520.07 L404.39,521.43 L404.12,522.79 L403.88,524.14 L403.67,525.5 L403.48,526.86 L403.31,528.21 L403.17,529.57 L403.04,530.93 L402.93,532.29 L402.83,533.64 L402.74,535 L402.67,536.36 L402.61,537.71 L402.56,539.07 L402.51,540.43 L402.48,541.79 L402.44,543.14 L402.42,544.5 L402.4,545.86 L402.38,547.21 L402.36,548.57 L402.35,549.93 L402.34,551.29 L402.33,552.64 L402.33,554 L402.32,555.36 L402.32,556.71 L402.31,558.07 L402.31,559.43 L402.31,560.79 L402.31,562.14 L402.3,563.5 L402.3,564.86 L402.3,566.21 L402.3,567.57 L402.3,568.93 L402.3,570.29 L402.3,571.64 L402.3,573 L402.3,573 L402.3,571.64 L402.3,570.29 L402.3,568.93 L402.3,567.57 L402.3,566.21 L402.3,564.86 L402.3,563.5 L402.29,562.14 L402.29,560.79 L402.29,559.43 L402.29,558.07 L402.28,556.71 L402.28,555.36 L402.27,554 L402.27,552.64 L402.26,551.29 L402.25,549.93 L402.24,548.57 L402.22,547.21 L402.2,545.86 L402.18,544.5 L402.16,543.14 L402.12,541.79 L402.09,540.43 L402.04,539.07 L401.99,537.71 L401.93,536.36 L401.86,535 L401.77,533.64 L401.67,532.29 L401.56,530.93 L401.43,529.57 L401.29,528.21 L401.12,526.86 L400.93,525.5 L400.72,524.14 L400.48,522.79 L400.21,521.43 L399.92,520.07 L399.6,518.71 L399.24,517.36 L398.86,516 L398.44,514.64 L397.99,513.29 L397.5,511.93 L396.98,510.57 L396.44,509.21 L395.86,507.86 L395.25,506.5 L394.62,505.14 L393.97,503.79 L393.3,502.43 L392.62,501.07 L391.93,499.71 L391.24,498.36 L390.55,497 L389.86,495.64 L389.2,494.29 L388.55,492.93 L387.94,491.57 L387.35,490.21 L386.81,488.86 L386.32,487.5 L385.88,486.14 L385.5,484.79 L385.18,483.43 L384.93,482.07 L384.75,480.71 L384.64,479.36 L384.6,478 L384.61,476.86 L384.66,475.73 L384.73,474.59 L384.84,473.45 L384.97,472.32 L385.12,471.18 L385.31,470.05 L385.52,468.91 L385.75,467.77 L386,466.64 L386.28,465.5 L386.57,464.36 L386.88,463.23 L387.21,462.09 L387.55,460.95 L387.9,459.82 L388.26,458.68 L388.63,457.54 L389.01,456.41 L389.39,455.27 L389.77,454.13 L390.16,453 L390.54,451.86 L390.93,450.73 L391.31,449.59 L391.69,448.45 L392.06,447.32 L392.43,446.18 L392.8,445.04 L393.16,443.91 L393.51,442.77 L393.85,441.63 L394.18,440.5 L394.51,439.36 L394.82,438.23 L395.13,437.09 L395.43,435.95 L395.72,434.82 L395.99,433.68 L396.26,432.54 L396.52,431.41 L396.77,430.27 L397.01,429.13 L397.24,428 L397.46,426.86 L397.68,425.72 L397.88,424.59 L398.08,423.45 L398.27,422.31 L398.45,421.18 L398.62,420.04 L398.78,418.91 L398.94,417.77 L399.09,416.63 L399.23,415.5 L399.37,414.36 L399.5,413.22 L399.63,412.09 L399.75,410.95 L399.86,409.81 L399.97,408.68 L400.07,407.54 L400.17,406.4 L400.27,405.27 L400.36,404.13 L400.44,403 L400.52,401.86 L400.6,400.72 L400.68,399.59 L400.75,398.45Z" fill="#F3E77F" stroke="#1C1C1C" stroke-width="1.45" stroke-linejoin="round"/>
<line x1="402.3" x2="402.3" y1="415.9" y2="537" stroke="#1C1C1C" stroke-width="1.25"/>
<rect x="398.9" y="461.6" width="6.8" height="31.1" fill="#F8E64C" stroke="#1C1C1C" stroke-width="1.3"/>
<line x1="398.9" x2="405.7" y1="477.9" y2="477.9" stroke="#1C1C1C" stroke-width="2.3"/>
<line x1="402.3" x2="402.3" y1="398.45" y2="413.65" stroke="#262626" stroke-width="5.5" stroke-linecap="round"/>
<line x1="402.3" x2="402.3" y1="539.25" y2="561.25" stroke="#262626" stroke-width="5.5" stroke-linecap="round"/>
<circle cx="402.3" cy="567.5" r="2.75" fill="#262626"/>
<circle cx="402.3" cy="573" r="2.75" fill="#262626"/>
<path d="M467.03,404.45 L467.05,405.67 L467.07,406.89 L467.1,408.11 L467.12,409.33 L467.15,410.55 L467.18,411.77 L467.21,412.99 L467.24,414.2 L467.28,415.42 L467.32,416.64 L467.36,417.86 L467.4,419.08 L467.45,420.3 L467.5,421.52 L467.56,422.74 L467.62,423.96 L467.68,425.18 L467.75,426.4 L467.83,427.62 L467.91,428.84 L468,430.06 L468.1,431.27 L468.21,432.49 L468.32,433.71 L468.44,434.93 L468.58,436.15 L468.72,437.37 L468.88,438.59 L469.05,439.81 L469.24,441.03 L469.44,442.25 L469.66,443.47 L469.89,444.69 L470.15,445.91 L470.43,447.12 L470.73,448.34 L471.06,449.56 L471.41,450.78 L471.8,452 L472.21,453.22 L472.66,454.44 L473.14,455.66 L473.66,456.88 L474.21,458.1 L474.81,459.32 L475.44,460.54 L476.12,461.76 L476.84,462.98 L477.6,464.19 L478.4,465.41 L479.24,466.63 L480.12,467.85 L481.03,469.07 L481.98,470.29 L482.94,471.51 L483.93,472.73 L484.92,473.95 L485.91,475.17 L486.89,476.39 L487.85,477.61 L488.77,478.83 L489.64,480.05 L490.45,481.26 L491.19,482.48 L491.84,483.7 L492.38,484.92 L492.82,486.14 L493.14,487.36 L493.33,488.58 L493.4,489.8 L493.33,490.87 L493.13,491.94 L492.79,493.01 L492.33,494.09 L491.75,495.16 L491.06,496.23 L490.26,497.3 L489.38,498.37 L488.42,499.44 L487.39,500.51 L486.31,501.59 L485.19,502.66 L484.05,503.73 L482.89,504.8 L481.74,505.87 L480.6,506.94 L479.47,508.01 L478.38,509.09 L477.33,510.16 L476.32,511.23 L475.37,512.3 L474.47,513.37 L473.63,514.44 L472.84,515.51 L472.12,516.59 L471.46,517.66 L470.86,518.73 L470.31,519.8 L469.82,520.87 L469.39,521.94 L469,523.01 L468.66,524.09 L468.36,525.16 L468.1,526.23 L467.87,527.3 L467.68,528.37 L467.51,529.44 L467.37,530.51 L467.25,531.59 L467.15,532.66 L467.07,533.73 L467,534.8 L466.94,535.87 L466.89,536.94 L466.85,538.01 L466.82,539.09 L466.8,540.16 L466.77,541.23 L466.76,542.3 L466.75,543.37 L466.74,544.44 L466.73,545.51 L466.72,546.59 L466.72,547.66 L466.71,548.73 L466.71,549.8 L466.71,550.87 L466.71,551.94 L466.7,553.01 L466.7,554.09 L466.7,555.16 L466.7,556.23 L466.7,557.3 L466.7,558.37 L466.7,559.44 L466.7,560.51 L466.7,561.59 L466.7,562.66 L466.7,563.73 L466.7,564.8 L466.7,564.8 L466.7,563.73 L466.7,562.66 L466.7,561.59 L466.7,560.51 L466.7,559.44 L466.7,558.37 L466.7,557.3 L466.7,556.23 L466.7,555.16 L466.7,554.09 L466.7,553.01 L466.69,551.94 L466.69,550.87 L466.69,549.8 L466.69,548.73 L466.68,547.66 L466.68,546.59 L466.67,545.51 L466.66,544.44 L466.65,543.37 L466.64,542.3 L466.63,541.23 L466.6,540.16 L466.58,539.09 L466.55,538.01 L466.51,536.94 L466.46,535.87 L466.4,534.8 L466.33,533.73 L466.25,532.66 L466.15,531.59 L466.03,530.51 L465.89,529.44 L465.72,528.37 L465.53,527.3 L465.3,526.23 L465.04,525.16 L464.74,524.09 L464.4,523.01 L464.01,521.94 L463.58,520.87 L463.09,519.8 L462.54,518.73 L461.94,517.66 L461.28,516.59 L460.56,515.51 L459.77,514.44 L458.93,513.37 L458.03,512.3 L457.08,511.23 L456.07,510.16 L455.02,509.09 L453.93,508.01 L452.8,506.94 L451.66,505.87 L450.51,504.8 L449.35,503.73 L448.21,502.66 L447.09,501.59 L446.01,500.51 L444.98,499.44 L444.02,498.37 L443.14,497.3 L442.34,496.23 L441.65,495.16 L441.07,494.09 L440.61,493.01 L440.27,491.94 L440.07,490.87 L440,489.8 L440.07,488.58 L440.26,487.36 L440.58,486.14 L441.02,484.92 L441.56,483.7 L442.21,482.48 L442.95,481.26 L443.76,480.05 L444.63,478.83 L445.55,477.61 L446.51,476.39 L447.49,475.17 L448.48,473.95 L449.47,472.73 L450.46,471.51 L451.42,470.29 L452.37,469.07 L453.28,467.85 L454.16,466.63 L455,465.41 L455.8,464.19 L456.56,462.98 L457.28,461.76 L457.96,460.54 L458.59,459.32 L459.19,458.1 L459.74,456.88 L460.26,455.66 L460.74,454.44 L461.19,453.22 L461.6,452 L461.99,450.78 L462.34,449.56 L462.67,448.34 L462.97,447.12 L463.25,445.91 L463.51,444.69 L463.74,443.47 L463.96,442.25 L464.16,441.03 L464.35,439.81 L464.52,438.59 L464.68,437.37 L464.82,436.15 L464.96,434.93 L465.08,433.71 L465.19,432.49 L465.3,431.27 L465.4,430.06 L465.49,428.84 L465.57,427.62 L465.65,426.4 L465.72,425.18 L465.78,423.96 L465.84,422.74 L465.9,421.52 L465.95,420.3 L466,419.08 L466.04,417.86 L466.08,416.64 L466.12,415.42 L466.16,414.2 L466.19,412.99 L466.22,411.77 L466.25,410.55 L466.28,409.33 L466.3,408.11 L466.33,406.89 L466.35,405.67 L466.37,404.45Z" fill="#9B78A6" stroke="#1C1C1C" stroke-width="1.45" stroke-linejoin="round"/>
<line x1="466.7" x2="466.7" y1="448.7" y2="524" stroke="#1C1C1C" stroke-width="1.25"/>
<rect x="463.3" y="477.7" width="6.8" height="20.6" fill="#7B3F92" stroke="#1C1C1C" stroke-width="1.3"/>
<line x1="463.3" x2="470.1" y1="487.5" y2="487.5" stroke="#1C1C1C" stroke-width="2.3"/>
<line x1="466.7" x2="466.7" y1="404.45" y2="446.45" stroke="#262626" stroke-width="5.5" stroke-linecap="round"/>
<line x1="466.7" x2="466.7" y1="526.25" y2="556.25" stroke="#262626" stroke-width="5.5" stroke-linecap="round"/>
<circle cx="466.7" cy="564.8" r="2.75" fill="#262626"/>
<path d="M520.11,403.25 L520.15,404.42 L520.2,405.58 L520.25,406.75 L520.3,407.91 L520.36,409.07 L520.41,410.24 L520.48,411.4 L520.54,412.57 L520.61,413.74 L520.69,414.9 L520.77,416.06 L520.85,417.23 L520.94,418.39 L521.03,419.56 L521.13,420.73 L521.24,421.89 L521.35,423.06 L521.47,424.22 L521.6,425.38 L521.74,426.55 L521.88,427.72 L522.04,428.88 L522.2,430.05 L522.37,431.21 L522.56,432.38 L522.75,433.54 L522.96,434.7 L523.18,435.87 L523.41,437.04 L523.66,438.2 L523.92,439.37 L524.19,440.53 L524.48,441.69 L524.79,442.86 L525.11,444.02 L525.45,445.19 L525.81,446.36 L526.19,447.52 L526.58,448.69 L526.99,449.85 L527.42,451.01 L527.87,452.18 L528.34,453.35 L528.82,454.51 L529.32,455.68 L529.84,456.84 L530.37,458 L530.91,459.17 L531.46,460.34 L532.03,461.5 L532.6,462.67 L533.17,463.83 L533.75,465 L534.32,466.16 L534.89,467.33 L535.45,468.49 L536,469.65 L536.53,470.82 L537.04,471.99 L537.52,473.15 L537.98,474.31 L538.4,475.48 L538.78,476.64 L539.12,477.81 L539.41,478.98 L539.66,480.14 L539.85,481.31 L539.99,482.47 L540.07,483.63 L540.1,484.8 L540.06,485.86 L539.96,486.92 L539.78,487.97 L539.53,489.03 L539.22,490.09 L538.85,491.15 L538.41,492.21 L537.92,493.26 L537.38,494.32 L536.8,495.38 L536.18,496.44 L535.52,497.49 L534.84,498.55 L534.13,499.61 L533.4,500.67 L532.67,501.73 L531.93,502.78 L531.19,503.84 L530.45,504.9 L529.72,505.96 L529.01,507.01 L528.32,508.07 L527.64,509.13 L526.99,510.19 L526.37,511.25 L525.77,512.3 L525.21,513.36 L524.67,514.42 L524.17,515.48 L523.7,516.54 L523.26,517.59 L522.85,518.65 L522.47,519.71 L522.13,520.77 L521.81,521.83 L521.52,522.88 L521.26,523.94 L521.02,525 L520.8,526.06 L520.61,527.11 L520.44,528.17 L520.29,529.23 L520.15,530.29 L520.03,531.35 L519.93,532.4 L519.84,533.46 L519.76,534.52 L519.69,535.58 L519.63,536.63 L519.58,537.69 L519.53,538.75 L519.5,539.81 L519.46,540.87 L519.44,541.92 L519.41,542.98 L519.39,544.04 L519.38,545.1 L519.36,546.16 L519.35,547.21 L519.34,548.27 L519.33,549.33 L519.33,550.39 L519.32,551.45 L519.32,552.5 L519.31,553.56 L519.31,554.62 L519.31,555.68 L519.31,556.73 L519.31,557.79 L519.3,558.85 L519.3,558.85 L519.29,557.79 L519.29,556.73 L519.29,555.68 L519.29,554.62 L519.29,553.56 L519.28,552.5 L519.28,551.45 L519.27,550.39 L519.27,549.33 L519.26,548.27 L519.25,547.21 L519.24,546.16 L519.22,545.1 L519.21,544.04 L519.19,542.98 L519.16,541.92 L519.14,540.87 L519.1,539.81 L519.07,538.75 L519.02,537.69 L518.97,536.63 L518.91,535.58 L518.84,534.52 L518.76,533.46 L518.67,532.4 L518.57,531.35 L518.45,530.29 L518.31,529.23 L518.16,528.17 L517.99,527.11 L517.8,526.06 L517.58,525 L517.34,523.94 L517.08,522.88 L516.79,521.83 L516.47,520.77 L516.13,519.71 L515.75,518.65 L515.34,517.59 L514.9,516.54 L514.43,515.48 L513.93,514.42 L513.39,513.36 L512.83,512.3 L512.23,511.25 L511.61,510.19 L510.96,509.13 L510.28,508.07 L509.59,507.01 L508.88,505.96 L508.15,504.9 L507.41,503.84 L506.67,502.78 L505.93,501.73 L505.2,500.67 L504.47,499.61 L503.76,498.55 L503.08,497.49 L502.42,496.44 L501.8,495.38 L501.22,494.32 L500.68,493.26 L500.19,492.21 L499.75,491.15 L499.38,490.09 L499.07,489.03 L498.82,487.97 L498.64,486.92 L498.54,485.86 L498.5,484.8 L498.53,483.63 L498.61,482.47 L498.75,481.31 L498.94,480.14 L499.19,478.98 L499.48,477.81 L499.82,476.64 L500.2,475.48 L500.62,474.31 L501.08,473.15 L501.56,471.99 L502.07,470.82 L502.6,469.65 L503.15,468.49 L503.71,467.33 L504.28,466.16 L504.85,465 L505.43,463.83 L506,462.67 L506.57,461.5 L507.14,460.34 L507.69,459.17 L508.23,458 L508.76,456.84 L509.28,455.68 L509.78,454.51 L510.26,453.35 L510.73,452.18 L511.18,451.01 L511.61,449.85 L512.02,448.69 L512.41,447.52 L512.79,446.36 L513.15,445.19 L513.49,444.02 L513.81,442.86 L514.12,441.69 L514.41,440.53 L514.68,439.37 L514.94,438.2 L515.19,437.04 L515.42,435.87 L515.64,434.7 L515.85,433.54 L516.04,432.38 L516.23,431.21 L516.4,430.05 L516.56,428.88 L516.72,427.72 L516.86,426.55 L517,425.38 L517.13,424.22 L517.25,423.06 L517.36,421.89 L517.47,420.73 L517.57,419.56 L517.66,418.39 L517.75,417.23 L517.83,416.06 L517.91,414.9 L517.99,413.74 L518.06,412.57 L518.12,411.4 L518.19,410.24 L518.24,409.07 L518.3,407.91 L518.35,406.75 L518.4,405.58 L518.45,404.42 L518.49,403.25Z" fill="#F3E77F" stroke="#1C1C1C" stroke-width="1.45" stroke-linejoin="round"/>
<line x1="519.3" x2="519.3" y1="430.5" y2="532.9" stroke="#1C1C1C" stroke-width="1.25"/>
<rect x="515.9" y="467.7" width="6.8" height="26.4" fill="#F8E64C" stroke="#1C1C1C" stroke-width="1.3"/>
<line x1="515.9" x2="522.7" y1="482" y2="482" stroke="#1C1C1C" stroke-width="2.3"/>
<line x1="519.3" x2="519.3" y1="403.25" y2="428.25" stroke="#262626" stroke-width="5.5" stroke-linecap="round"/>
<line x1="519.3" x2="519.3" y1="535.15" y2="558.85" stroke="#262626" stroke-width="5.5" stroke-linecap="round"/>
</g>
<g clip-path="url(#clipB01)">
<rect x="366.78" y="388.3" width="3.1" height="3.1" rx="0.7" fill="#151515"/>
<rect x="371.84" y="388.3" width="3.1" height="3.1" rx="0.7" fill="#151515"/>
<rect x="376.9" y="388.3" width="3.1" height="3.1" rx="0.7" fill="#151515"/>
<rect x="381.96" y="388.3" width="3.1" height="3.1" rx="0.7" fill="#151515"/>
</g>
<g clip-path="url(#clipB01)">
<rect x="483.64" y="388.3" width="3.1" height="3.1" rx="0.7" fill="#151515"/>
<rect x="488.7" y="388.3" width="3.1" height="3.1" rx="0.7" fill="#151515"/>
<rect x="493.76" y="388.3" width="3.1" height="3.1" rx="0.7" fill="#151515"/>
<rect x="498.82" y="388.3" width="3.1" height="3.1" rx="0.7" fill="#151515"/>
</g>
<line x1="39.0" x2="42.1" y1="437.3" y2="437.3" stroke="#1F1F1F" stroke-width="1.4"/>
<text x="36.3" y="441.6" font-size="10.3" fill="#4D4D4D" stroke="#4D4D4D" stroke-width="0.25" text-anchor="end" font-weight="normal" >0.5</text>
<line x1="39.0" x2="42.1" y1="491.9" y2="491.9" stroke="#1F1F1F" stroke-width="1.4"/>
<text x="36.3" y="496.2" font-size="10.3" fill="#4D4D4D" stroke="#4D4D4D" stroke-width="0.25" text-anchor="end" font-weight="normal" >0.0</text>
<rect x="16.3" y="546.6" width="4.6" height="1.2" fill="#4D4D4D"/>
<line x1="39.0" x2="42.1" y1="546.5" y2="546.5" stroke="#1F1F1F" stroke-width="1.4"/>
<text x="36.3" y="550.8" font-size="10.3" fill="#4D4D4D" stroke="#4D4D4D" stroke-width="0.25" text-anchor="end" font-weight="normal" >0.5</text>
<rect x="42.1" y="588.5" width="257.1" height="19.4" fill="#D9D9D9"/>
<text x="170.65" y="602.1" font-size="10.6" fill="#1A1A1A" stroke="#1A1A1A" stroke-width="0.25" text-anchor="middle" font-weight="normal" >EUR</text>
<rect x="42.1" y="607.9" width="257.1" height="194.1" fill="#EBEBEB"/>
<line x1="42.1" x2="299.2" y1="794.5" y2="794.5" stroke="#fff" stroke-width="0.55"/>
<line x1="42.1" x2="299.2" y1="739.9" y2="739.9" stroke="#fff" stroke-width="0.55"/>
<line x1="42.1" x2="299.2" y1="685.3" y2="685.3" stroke="#fff" stroke-width="0.55"/>
<line x1="42.1" x2="299.2" y1="630.7" y2="630.7" stroke="#fff" stroke-width="0.55"/>
<line x1="42.1" x2="299.2" y1="767.2" y2="767.2" stroke="#fff" stroke-width="1.1"/>
<line x1="42.1" x2="299.2" y1="712.6" y2="712.6" stroke="#fff" stroke-width="1.1"/>
<line x1="42.1" x2="299.2" y1="658" y2="658" stroke="#fff" stroke-width="1.1"/>
<line x1="112.22" x2="112.22" y1="607.9" y2="802" stroke="#fff" stroke-width="1.1"/>
<line x1="229.08" x2="229.08" y1="607.9" y2="802" stroke="#fff" stroke-width="1.1"/>
<g clip-path="url(#clipB10)">
<clipPath id="clipB10"><rect x="42.1" y="607.9" width="257.1" height="194.1"/></clipPath>
<path d="M86.98,618.45 L87.03,619.66 L87.09,620.86 L87.15,622.07 L87.21,623.28 L87.27,624.48 L87.34,625.69 L87.41,626.89 L87.49,628.1 L87.57,629.31 L87.66,630.51 L87.76,631.72 L87.85,632.93 L87.96,634.13 L88.07,635.34 L88.19,636.55 L88.31,637.75 L88.44,638.96 L88.59,640.17 L88.74,641.37 L88.89,642.58 L89.06,643.79 L89.24,644.99 L89.43,646.2 L89.63,647.4 L89.84,648.61 L90.07,649.82 L90.31,651.02 L90.56,652.23 L90.82,653.44 L91.11,654.64 L91.4,655.85 L91.72,657.06 L92.05,658.26 L92.39,659.47 L92.76,660.67 L93.15,661.88 L93.55,663.09 L93.97,664.29 L94.41,665.5 L94.87,666.71 L95.35,667.91 L95.85,669.12 L96.37,670.33 L96.9,671.53 L97.46,672.74 L98.02,673.95 L98.61,675.15 L99.2,676.36 L99.81,677.57 L100.42,678.77 L101.05,679.98 L101.67,681.18 L102.3,682.39 L102.92,683.6 L103.53,684.8 L104.14,686.01 L104.73,687.22 L105.3,688.42 L105.84,689.63 L106.36,690.84 L106.84,692.04 L107.29,693.25 L107.7,694.45 L108.06,695.66 L108.37,696.87 L108.63,698.07 L108.83,699.28 L108.98,700.49 L109.07,701.69 L109.1,702.9 L109.05,704.09 L108.9,705.27 L108.65,706.46 L108.31,707.65 L107.88,708.84 L107.36,710.02 L106.76,711.21 L106.1,712.4 L105.37,713.58 L104.58,714.77 L103.76,715.96 L102.89,717.15 L102,718.33 L101.08,719.52 L100.16,720.71 L99.24,721.89 L98.32,723.08 L97.42,724.27 L96.54,725.46 L95.68,726.64 L94.85,727.83 L94.06,729.02 L93.31,730.2 L92.6,731.39 L91.93,732.58 L91.31,733.77 L90.73,734.95 L90.2,736.14 L89.71,737.33 L89.26,738.51 L88.86,739.7 L88.49,740.89 L88.16,742.08 L87.87,743.26 L87.61,744.45 L87.38,745.64 L87.18,746.82 L87,748.01 L86.85,749.2 L86.71,750.39 L86.6,751.57 L86.5,752.76 L86.41,753.95 L86.34,755.13 L86.28,756.32 L86.23,757.51 L86.19,758.7 L86.15,759.88 L86.12,761.07 L86.1,762.26 L86.08,763.44 L86.06,764.63 L86.05,765.82 L86.04,767.01 L86.03,768.19 L86.03,769.38 L86.02,770.57 L86.02,771.75 L86.01,772.94 L86.01,774.13 L86.01,775.32 L86.01,776.5 L86,777.69 L86,778.88 L86,780.06 L86,781.25 L86,782.44 L86,783.63 L86,784.81 L86,786 L86,786 L86,784.81 L86,783.63 L86,782.44 L86,781.25 L86,780.06 L86,778.88 L86,777.69 L85.99,776.5 L85.99,775.32 L85.99,774.13 L85.99,772.94 L85.98,771.75 L85.98,770.57 L85.97,769.38 L85.97,768.19 L85.96,767.01 L85.95,765.82 L85.94,764.63 L85.92,763.44 L85.9,762.26 L85.88,761.07 L85.85,759.88 L85.81,758.7 L85.77,757.51 L85.72,756.32 L85.66,755.13 L85.59,753.95 L85.5,752.76 L85.4,751.57 L85.29,750.39 L85.15,749.2 L85,748.01 L84.82,746.82 L84.62,745.64 L84.39,744.45 L84.13,743.26 L83.84,742.08 L83.51,740.89 L83.14,739.7 L82.74,738.51 L82.29,737.33 L81.8,736.14 L81.27,734.95 L80.69,733.77 L80.07,732.58 L79.4,731.39 L78.69,730.2 L77.94,729.02 L77.15,727.83 L76.32,726.64 L75.46,725.46 L74.58,724.27 L73.68,723.08 L72.76,721.89 L71.84,720.71 L70.92,719.52 L70,718.33 L69.11,717.15 L68.24,715.96 L67.42,714.77 L66.63,713.58 L65.9,712.4 L65.24,711.21 L64.64,710.02 L64.12,708.84 L63.69,707.65 L63.35,706.46 L63.1,705.27 L62.95,704.09 L62.9,702.9 L62.93,701.69 L63.02,700.49 L63.17,699.28 L63.37,698.07 L63.63,696.87 L63.94,695.66 L64.3,694.45 L64.71,693.25 L65.16,692.04 L65.64,690.84 L66.16,689.63 L66.7,688.42 L67.27,687.22 L67.86,686.01 L68.47,684.8 L69.08,683.6 L69.7,682.39 L70.33,681.18 L70.95,679.98 L71.58,678.77 L72.19,677.57 L72.8,676.36 L73.39,675.15 L73.98,673.95 L74.54,672.74 L75.1,671.53 L75.63,670.33 L76.15,669.12 L76.65,667.91 L77.13,666.71 L77.59,665.5 L78.03,664.29 L78.45,663.09 L78.85,661.88 L79.24,660.67 L79.61,659.47 L79.95,658.26 L80.28,657.06 L80.6,655.85 L80.89,654.64 L81.18,653.44 L81.44,652.23 L81.69,651.02 L81.93,649.82 L82.16,648.61 L82.37,647.4 L82.57,646.2 L82.76,644.99 L82.94,643.79 L83.11,642.58 L83.26,641.37 L83.41,640.17 L83.56,638.96 L83.69,637.75 L83.81,636.55 L83.93,635.34 L84.04,634.13 L84.15,632.93 L84.24,631.72 L84.34,630.51 L84.43,629.31 L84.51,628.1 L84.59,626.89 L84.66,625.69 L84.73,624.48 L84.79,623.28 L84.85,622.07 L84.91,620.86 L84.97,619.66 L85.02,618.45Z" fill="#9B78A6" stroke="#1C1C1C" stroke-width="1.45" stroke-linejoin="round"/>
<line x1="86" x2="86" y1="642.4" y2="754.1" stroke="#1C1C1C" stroke-width="1.25"/>
<rect x="82.6" y="683" width="6.8" height="29.2" fill="#7B3F92" stroke="#1C1C1C" stroke-width="1.3"/>
<line x1="82.6" x2="89.4" y1="699.8" y2="699.8" stroke="#1C1C1C" stroke-width="2.3"/>
<line x1="86" x2="86" y1="618.45" y2="640.15" stroke="#262626" stroke-width="5.5" stroke-linecap="round"/>
<line x1="86" x2="86" y1="756.35" y2="774.25" stroke="#262626" stroke-width="5.5" stroke-linecap="round"/>
<circle cx="86" cy="780.5" r="2.75" fill="#262626"/>
<circle cx="86" cy="786" r="2.75" fill="#262626"/>
<path d="M139.72,619.65 L139.78,620.82 L139.84,621.99 L139.91,623.15 L139.97,624.32 L140.05,625.49 L140.12,626.66 L140.2,627.82 L140.29,628.99 L140.38,630.16 L140.47,631.33 L140.57,632.5 L140.68,633.66 L140.79,634.83 L140.91,636 L141.04,637.17 L141.17,638.34 L141.31,639.5 L141.46,640.67 L141.62,641.84 L141.79,643.01 L141.97,644.17 L142.15,645.34 L142.35,646.51 L142.56,647.68 L142.78,648.85 L143.01,650.01 L143.25,651.18 L143.51,652.35 L143.78,653.52 L144.07,654.69 L144.37,655.85 L144.68,657.02 L145.01,658.19 L145.36,659.36 L145.72,660.52 L146.1,661.69 L146.5,662.86 L146.91,664.03 L147.34,665.2 L147.78,666.36 L148.24,667.53 L148.72,668.7 L149.21,669.87 L149.72,671.04 L150.24,672.2 L150.77,673.37 L151.32,674.54 L151.87,675.71 L152.43,676.88 L152.99,678.04 L153.56,679.21 L154.13,680.38 L154.7,681.55 L155.26,682.71 L155.81,683.88 L156.35,685.05 L156.87,686.22 L157.38,687.39 L157.86,688.55 L158.31,689.72 L158.74,690.89 L159.13,692.06 L159.48,693.23 L159.8,694.39 L160.07,695.56 L160.29,696.73 L160.47,697.9 L160.6,699.06 L160.67,700.23 L160.7,701.4 L160.65,702.66 L160.5,703.92 L160.24,705.18 L159.9,706.43 L159.46,707.69 L158.93,708.95 L158.33,710.21 L157.66,711.47 L156.92,712.73 L156.13,713.99 L155.3,715.24 L154.44,716.5 L153.55,717.76 L152.64,719.02 L151.73,720.28 L150.82,721.54 L149.92,722.8 L149.04,724.05 L148.18,725.31 L147.36,726.57 L146.57,727.83 L145.81,729.09 L145.1,730.35 L144.43,731.61 L143.8,732.86 L143.22,734.12 L142.69,735.38 L142.2,736.64 L141.76,737.9 L141.35,739.16 L140.99,740.42 L140.67,741.67 L140.38,742.93 L140.12,744.19 L139.9,745.45 L139.7,746.71 L139.53,747.97 L139.38,749.23 L139.25,750.48 L139.14,751.74 L139.05,753 L138.97,754.26 L138.91,755.52 L138.85,756.78 L138.8,758.04 L138.77,759.29 L138.73,760.55 L138.71,761.81 L138.69,763.07 L138.67,764.33 L138.65,765.59 L138.64,766.85 L138.63,768.1 L138.63,769.36 L138.62,770.62 L138.62,771.88 L138.61,773.14 L138.61,774.4 L138.61,775.66 L138.61,776.91 L138.6,778.17 L138.6,779.43 L138.6,780.69 L138.6,781.95 L138.6,783.21 L138.6,784.47 L138.6,785.72 L138.6,786.98 L138.6,788.24 L138.6,789.5 L138.6,789.5 L138.6,788.24 L138.6,786.98 L138.6,785.72 L138.6,784.47 L138.6,783.21 L138.6,781.95 L138.6,780.69 L138.6,779.43 L138.6,778.17 L138.59,776.91 L138.59,775.66 L138.59,774.4 L138.59,773.14 L138.58,771.88 L138.58,770.62 L138.57,769.36 L138.57,768.1 L138.56,766.85 L138.55,765.59 L138.53,764.33 L138.51,763.07 L138.49,761.81 L138.47,760.55 L138.43,759.29 L138.4,758.04 L138.35,756.78 L138.29,755.52 L138.23,754.26 L138.15,753 L138.06,751.74 L137.95,750.48 L137.82,749.23 L137.67,747.97 L137.5,746.71 L137.3,745.45 L137.08,744.19 L136.82,742.93 L136.53,741.67 L136.21,740.42 L135.85,739.16 L135.44,737.9 L135,736.64 L134.51,735.38 L133.98,734.12 L133.4,732.86 L132.77,731.61 L132.1,730.35 L131.39,729.09 L130.63,727.83 L129.84,726.57 L129.02,725.31 L128.16,724.05 L127.28,722.8 L126.38,721.54 L125.47,720.28 L124.56,719.02 L123.65,717.76 L122.76,716.5 L121.9,715.24 L121.07,713.99 L120.28,712.73 L119.54,711.47 L118.87,710.21 L118.27,708.95 L117.74,707.69 L117.3,706.43 L116.96,705.18 L116.7,703.92 L116.55,702.66 L116.5,701.4 L116.53,700.23 L116.6,699.06 L116.73,697.9 L116.91,696.73 L117.13,695.56 L117.4,694.39 L117.72,693.23 L118.07,692.06 L118.46,690.89 L118.89,689.72 L119.34,688.55 L119.82,687.39 L120.33,686.22 L120.85,685.05 L121.39,683.88 L121.94,682.71 L122.5,681.55 L123.07,680.38 L123.64,679.21 L124.21,678.04 L124.77,676.88 L125.33,675.71 L125.88,674.54 L126.43,673.37 L126.96,672.2 L127.48,671.04 L127.99,669.87 L128.48,668.7 L128.96,667.53 L129.42,666.36 L129.86,665.2 L130.29,664.03 L130.7,662.86 L131.1,661.69 L131.48,660.52 L131.84,659.36 L132.19,658.19 L132.52,657.02 L132.83,655.85 L133.13,654.69 L133.42,653.52 L133.69,652.35 L133.95,651.18 L134.19,650.01 L134.42,648.85 L134.64,647.68 L134.85,646.51 L135.05,645.34 L135.23,644.17 L135.41,643.01 L135.58,641.84 L135.74,640.67 L135.89,639.5 L136.03,638.34 L136.16,637.17 L136.29,636 L136.41,634.83 L136.52,633.66 L136.63,632.5 L136.73,631.33 L136.82,630.16 L136.91,628.99 L137,627.82 L137.08,626.66 L137.15,625.49 L137.23,624.32 L137.29,623.15 L137.36,621.99 L137.42,620.82 L137.48,619.65Z" fill="#F3E77F" stroke="#1C1C1C" stroke-width="1.45" stroke-linejoin="round"/>
<line x1="138.6" x2="138.6" y1="640.1" y2="755.7" stroke="#1C1C1C" stroke-width="1.25"/>
<rect x="135.2" y="682.7" width="6.8" height="30.3" fill="#F8E64C" stroke="#1C1C1C" stroke-width="1.3"/>
<line x1="135.2" x2="142" y1="698.3" y2="698.3" stroke="#1C1C1C" stroke-width="2.3"/>
<line x1="138.6" x2="138.6" y1="619.65" y2="637.85" stroke="#262626" stroke-width="5.5" stroke-linecap="round"/>
<line x1="138.6" x2="138.6" y1="757.95" y2="781.25" stroke="#262626" stroke-width="5.5" stroke-linecap="round"/>
<circle cx="138.6" cy="789.5" r="2.75" fill="#262626"/>
<path d="M203.45,622.05 L203.48,623.26 L203.51,624.47 L203.54,625.68 L203.57,626.89 L203.61,628.1 L203.65,629.31 L203.69,630.51 L203.73,631.72 L203.78,632.93 L203.83,634.14 L203.88,635.35 L203.94,636.56 L204,637.77 L204.07,638.98 L204.14,640.19 L204.21,641.4 L204.3,642.61 L204.38,643.82 L204.48,645.03 L204.58,646.24 L204.69,647.44 L204.81,648.65 L204.94,649.86 L205.08,651.07 L205.23,652.28 L205.39,653.49 L205.57,654.7 L205.75,655.91 L205.96,657.12 L206.17,658.33 L206.41,659.54 L206.66,660.75 L206.93,661.96 L207.23,663.17 L207.54,664.38 L207.88,665.58 L208.25,666.79 L208.64,668 L209.06,669.21 L209.5,670.42 L209.98,671.63 L210.49,672.84 L211.04,674.05 L211.61,675.26 L212.23,676.47 L212.87,677.68 L213.56,678.89 L214.27,680.1 L215.02,681.31 L215.8,682.51 L216.62,683.72 L217.45,684.93 L218.31,686.14 L219.19,687.35 L220.08,688.56 L220.98,689.77 L221.88,690.98 L222.76,692.19 L223.63,693.4 L224.47,694.61 L225.27,695.82 L226.02,697.03 L226.72,698.24 L227.34,699.44 L227.89,700.65 L228.35,701.86 L228.72,703.07 L228.98,704.28 L229.15,705.49 L229.2,706.7 L229.16,707.68 L229.03,708.66 L228.81,709.64 L228.51,710.62 L228.14,711.6 L227.68,712.58 L227.15,713.56 L226.56,714.53 L225.91,715.51 L225.19,716.49 L224.43,717.47 L223.63,718.45 L222.79,719.43 L221.93,720.41 L221.04,721.39 L220.13,722.37 L219.22,723.35 L218.31,724.33 L217.39,725.31 L216.49,726.29 L215.6,727.26 L214.74,728.24 L213.89,729.22 L213.08,730.2 L212.29,731.18 L211.53,732.16 L210.82,733.14 L210.13,734.12 L209.49,735.1 L208.89,736.08 L208.32,737.06 L207.79,738.04 L207.3,739.02 L206.85,740 L206.43,740.98 L206.05,741.95 L205.7,742.93 L205.39,743.91 L205.1,744.89 L204.84,745.87 L204.61,746.85 L204.4,747.83 L204.22,748.81 L204.06,749.79 L203.91,750.77 L203.78,751.75 L203.67,752.73 L203.57,753.71 L203.49,754.69 L203.41,755.66 L203.35,756.64 L203.3,757.62 L203.25,758.6 L203.21,759.58 L203.17,760.56 L203.14,761.54 L203.12,762.52 L203.1,763.5 L203.08,764.48 L203.07,765.46 L203.05,766.44 L203.04,767.42 L203.04,768.39 L203.03,769.37 L203.02,770.35 L203.02,771.33 L203.02,772.31 L203.01,773.29 L203.01,774.27 L203.01,775.25 L202.99,775.25 L202.99,774.27 L202.99,773.29 L202.98,772.31 L202.98,771.33 L202.98,770.35 L202.97,769.37 L202.96,768.39 L202.96,767.42 L202.95,766.44 L202.93,765.46 L202.92,764.48 L202.9,763.5 L202.88,762.52 L202.86,761.54 L202.83,760.56 L202.79,759.58 L202.75,758.6 L202.7,757.62 L202.65,756.64 L202.59,755.66 L202.51,754.69 L202.43,753.71 L202.33,752.73 L202.22,751.75 L202.09,750.77 L201.94,749.79 L201.78,748.81 L201.6,747.83 L201.39,746.85 L201.16,745.87 L200.9,744.89 L200.61,743.91 L200.3,742.93 L199.95,741.95 L199.57,740.98 L199.15,740 L198.7,739.02 L198.21,738.04 L197.68,737.06 L197.11,736.08 L196.51,735.1 L195.87,734.12 L195.18,733.14 L194.47,732.16 L193.71,731.18 L192.92,730.2 L192.11,729.22 L191.26,728.24 L190.4,727.26 L189.51,726.29 L188.61,725.31 L187.69,724.33 L186.78,723.35 L185.87,722.37 L184.96,721.39 L184.07,720.41 L183.21,719.43 L182.37,718.45 L181.57,717.47 L180.81,716.49 L180.09,715.51 L179.44,714.53 L178.85,713.56 L178.32,712.58 L177.86,711.6 L177.49,710.62 L177.19,709.64 L176.97,708.66 L176.84,707.68 L176.8,706.7 L176.85,705.49 L177.02,704.28 L177.28,703.07 L177.65,701.86 L178.11,700.65 L178.66,699.44 L179.28,698.24 L179.98,697.03 L180.73,695.82 L181.53,694.61 L182.37,693.4 L183.24,692.19 L184.12,690.98 L185.02,689.77 L185.92,688.56 L186.81,687.35 L187.69,686.14 L188.55,684.93 L189.38,683.72 L190.2,682.51 L190.98,681.31 L191.73,680.1 L192.44,678.89 L193.13,677.68 L193.77,676.47 L194.39,675.26 L194.96,674.05 L195.51,672.84 L196.02,671.63 L196.5,670.42 L196.94,669.21 L197.36,668 L197.75,666.79 L198.12,665.58 L198.46,664.38 L198.77,663.17 L199.07,661.96 L199.34,660.75 L199.59,659.54 L199.83,658.33 L200.04,657.12 L200.25,655.91 L200.43,654.7 L200.61,653.49 L200.77,652.28 L200.92,651.07 L201.06,649.86 L201.19,648.65 L201.31,647.44 L201.42,646.24 L201.52,645.03 L201.62,643.82 L201.7,642.61 L201.79,641.4 L201.86,640.19 L201.93,638.98 L202,637.77 L202.06,636.56 L202.12,635.35 L202.17,634.14 L202.22,632.93 L202.27,631.72 L202.31,630.51 L202.35,629.31 L202.39,628.1 L202.43,626.89 L202.46,625.68 L202.49,624.47 L202.52,623.26 L202.55,622.05Z" fill="#9B78A6" stroke="#1C1C1C" stroke-width="1.45" stroke-linejoin="round"/>
<line x1="203" x2="203" y1="659.4" y2="750.1" stroke="#1C1C1C" stroke-width="1.25"/>
<rect x="199.6" y="692.7" width="6.8" height="23.6" fill="#7B3F92" stroke="#1C1C1C" stroke-width="1.3"/>
<line x1="199.6" x2="206.4" y1="704.8" y2="704.8" stroke="#1C1C1C" stroke-width="2.3"/>
<line x1="203" x2="203" y1="622.05" y2="657.15" stroke="#262626" stroke-width="5.5" stroke-linecap="round"/>
<line x1="203" x2="203" y1="752.35" y2="775.25" stroke="#262626" stroke-width="5.5" stroke-linecap="round"/>
<path d="M256.44,623.25 L256.48,624.39 L256.52,625.54 L256.57,626.68 L256.62,627.82 L256.67,628.97 L256.73,630.11 L256.79,631.25 L256.85,632.4 L256.92,633.54 L256.99,634.69 L257.07,635.83 L257.15,636.97 L257.23,638.12 L257.33,639.26 L257.43,640.4 L257.53,641.55 L257.65,642.69 L257.77,643.83 L257.9,644.98 L258.04,646.12 L258.18,647.26 L258.34,648.41 L258.51,649.55 L258.69,650.7 L258.88,651.84 L259.09,652.98 L259.3,654.13 L259.54,655.27 L259.79,656.41 L260.05,657.56 L260.33,658.7 L260.63,659.84 L260.95,660.99 L261.29,662.13 L261.65,663.27 L262.03,664.42 L262.43,665.56 L262.86,666.71 L263.31,667.85 L263.78,668.99 L264.28,670.14 L264.8,671.28 L265.35,672.42 L265.93,673.57 L266.53,674.71 L267.15,675.85 L267.8,677 L268.46,678.14 L269.15,679.28 L269.85,680.43 L270.57,681.57 L271.3,682.72 L272.04,683.86 L272.78,685 L273.51,686.15 L274.25,687.29 L274.97,688.43 L275.67,689.58 L276.35,690.72 L276.99,691.86 L277.6,693.01 L278.17,694.15 L278.69,695.29 L279.15,696.44 L279.55,697.58 L279.89,698.73 L280.15,699.87 L280.34,701.01 L280.46,702.16 L280.5,703.3 L280.45,704.4 L280.31,705.49 L280.07,706.59 L279.73,707.68 L279.31,708.78 L278.81,709.87 L278.23,710.97 L277.58,712.07 L276.86,713.16 L276.09,714.26 L275.26,715.35 L274.4,716.45 L273.51,717.54 L272.59,718.64 L271.66,719.74 L270.71,720.83 L269.77,721.93 L268.84,723.02 L267.92,724.12 L267.02,725.21 L266.15,726.31 L265.3,727.41 L264.49,728.5 L263.72,729.6 L262.98,730.69 L262.29,731.79 L261.64,732.88 L261.03,733.98 L260.47,735.08 L259.95,736.17 L259.47,737.27 L259.03,738.36 L258.63,739.46 L258.27,740.55 L257.95,741.65 L257.66,742.75 L257.39,743.84 L257.16,744.94 L256.96,746.03 L256.78,747.13 L256.62,748.22 L256.48,749.32 L256.36,750.42 L256.26,751.51 L256.17,752.61 L256.09,753.7 L256.03,754.8 L255.97,755.89 L255.92,756.99 L255.88,758.09 L255.85,759.18 L255.82,760.28 L255.8,761.37 L255.78,762.47 L255.77,763.56 L255.75,764.66 L255.74,765.76 L255.73,766.85 L255.73,767.95 L255.72,769.04 L255.72,770.14 L255.71,771.23 L255.71,772.33 L255.71,773.43 L255.71,774.52 L255.7,775.62 L255.7,776.71 L255.7,777.81 L255.7,778.9 L255.7,780 L255.7,780 L255.7,778.9 L255.7,777.81 L255.7,776.71 L255.7,775.62 L255.69,774.52 L255.69,773.43 L255.69,772.33 L255.69,771.23 L255.68,770.14 L255.68,769.04 L255.67,767.95 L255.67,766.85 L255.66,765.76 L255.65,764.66 L255.63,763.56 L255.62,762.47 L255.6,761.37 L255.58,760.28 L255.55,759.18 L255.52,758.09 L255.48,756.99 L255.43,755.89 L255.37,754.8 L255.31,753.7 L255.23,752.61 L255.14,751.51 L255.04,750.42 L254.92,749.32 L254.78,748.22 L254.62,747.13 L254.44,746.03 L254.24,744.94 L254.01,743.84 L253.74,742.75 L253.45,741.65 L253.13,740.55 L252.77,739.46 L252.37,738.36 L251.93,737.27 L251.45,736.17 L250.93,735.08 L250.37,733.98 L249.76,732.88 L249.11,731.79 L248.42,730.69 L247.68,729.6 L246.91,728.5 L246.1,727.41 L245.25,726.31 L244.38,725.21 L243.48,724.12 L242.56,723.02 L241.63,721.93 L240.69,720.83 L239.74,719.74 L238.81,718.64 L237.89,717.54 L237,716.45 L236.14,715.35 L235.31,714.26 L234.54,713.16 L233.82,712.07 L233.17,710.97 L232.59,709.87 L232.09,708.78 L231.67,707.68 L231.33,706.59 L231.09,705.49 L230.95,704.4 L230.9,703.3 L230.94,702.16 L231.06,701.01 L231.25,699.87 L231.51,698.73 L231.85,697.58 L232.25,696.44 L232.71,695.29 L233.23,694.15 L233.8,693.01 L234.41,691.86 L235.05,690.72 L235.73,689.58 L236.43,688.43 L237.15,687.29 L237.89,686.15 L238.62,685 L239.36,683.86 L240.1,682.72 L240.83,681.57 L241.55,680.43 L242.25,679.28 L242.94,678.14 L243.6,677 L244.25,675.85 L244.87,674.71 L245.47,673.57 L246.05,672.42 L246.6,671.28 L247.12,670.14 L247.62,668.99 L248.09,667.85 L248.54,666.71 L248.97,665.56 L249.37,664.42 L249.75,663.27 L250.11,662.13 L250.45,660.99 L250.77,659.84 L251.07,658.7 L251.35,657.56 L251.61,656.41 L251.86,655.27 L252.1,654.13 L252.31,652.98 L252.52,651.84 L252.71,650.7 L252.89,649.55 L253.06,648.41 L253.22,647.26 L253.36,646.12 L253.5,644.98 L253.63,643.83 L253.75,642.69 L253.87,641.55 L253.97,640.4 L254.07,639.26 L254.17,638.12 L254.25,636.97 L254.33,635.83 L254.41,634.69 L254.48,633.54 L254.55,632.4 L254.61,631.25 L254.67,630.11 L254.73,628.97 L254.78,627.82 L254.83,626.68 L254.88,625.54 L254.92,624.39 L254.96,623.25Z" fill="#F3E77F" stroke="#1C1C1C" stroke-width="1.45" stroke-linejoin="round"/>
<line x1="255.7" x2="255.7" y1="652.8" y2="750.6" stroke="#1C1C1C" stroke-width="1.25"/>
<rect x="252.3" y="688.5" width="6.8" height="26.4" fill="#F8E64C" stroke="#1C1C1C" stroke-width="1.3"/>
<line x1="252.3" x2="259.1" y1="701.7" y2="701.7" stroke="#1C1C1C" stroke-width="2.3"/>
<line x1="255.7" x2="255.7" y1="623.25" y2="650.55" stroke="#262626" stroke-width="5.5" stroke-linecap="round"/>
<line x1="255.7" x2="255.7" y1="752.85" y2="774.05" stroke="#262626" stroke-width="5.5" stroke-linecap="round"/>
<circle cx="255.7" cy="780" r="2.75" fill="#262626"/>
</g>
<g clip-path="url(#clipB10)">
<text x="112.22" y="617.7" font-size="13" fill="#000" stroke="#000" stroke-width="0.25" text-anchor="middle" font-weight="normal" >ns</text>
</g>
<g clip-path="url(#clipB10)">
<rect x="219.94" y="609.1" width="3.1" height="3.1" rx="0.7" fill="#151515"/>
<rect x="225" y="609.1" width="3.1" height="3.1" rx="0.7" fill="#151515"/>
<rect x="230.06" y="609.1" width="3.1" height="3.1" rx="0.7" fill="#151515"/>
<rect x="235.12" y="609.1" width="3.1" height="3.1" rx="0.7" fill="#151515"/>
</g>
<line x1="112.22" x2="112.22" y1="802" y2="805.1" stroke="#1F1F1F" stroke-width="1.4"/>
<text x="112.22" y="815.8" font-size="10.3" fill="#4D4D4D" stroke="#4D4D4D" stroke-width="0.25" text-anchor="middle" font-weight="normal" >GBR</text>
<line x1="229.08" x2="229.08" y1="802" y2="805.1" stroke="#1F1F1F" stroke-width="1.4"/>
<text x="229.08" y="815.8" font-size="10.3" fill="#4D4D4D" stroke="#4D4D4D" stroke-width="0.25" text-anchor="middle" font-weight="normal" >YRI</text>
<rect x="305.8" y="588.5" width="257.1" height="19.4" fill="#D9D9D9"/>
<text x="434.35" y="602.1" font-size="10.6" fill="#1A1A1A" stroke="#1A1A1A" stroke-width="0.25" text-anchor="middle" font-weight="normal" >HIS</text>
<rect x="305.8" y="607.9" width="257.1" height="194.1" fill="#EBEBEB"/>
<line x1="305.8" x2="562.9" y1="794.5" y2="794.5" stroke="#fff" stroke-width="0.55"/>
<line x1="305.8" x2="562.9" y1="739.9" y2="739.9" stroke="#fff" stroke-width="0.55"/>
<line x1="305.8" x2="562.9" y1="685.3" y2="685.3" stroke="#fff" stroke-width="0.55"/>
<line x1="305.8" x2="562.9" y1="630.7" y2="630.7" stroke="#fff" stroke-width="0.55"/>
<line x1="305.8" x2="562.9" y1="767.2" y2="767.2" stroke="#fff" stroke-width="1.1"/>
<line x1="305.8" x2="562.9" y1="712.6" y2="712.6" stroke="#fff" stroke-width="1.1"/>
<line x1="305.8" x2="562.9" y1="658" y2="658" stroke="#fff" stroke-width="1.1"/>
<line x1="375.92" x2="375.92" y1="607.9" y2="802" stroke="#fff" stroke-width="1.1"/>
<line x1="492.78" x2="492.78" y1="607.9" y2="802" stroke="#fff" stroke-width="1.1"/>
<g clip-path="url(#clipB11)">
<clipPath id="clipB11"><rect x="305.8" y="607.9" width="257.1" height="194.1"/></clipPath>
<path d="M350.59,618.45 L350.64,619.66 L350.69,620.86 L350.74,622.07 L350.8,623.28 L350.86,624.48 L350.92,625.69 L350.99,626.89 L351.06,628.1 L351.14,629.31 L351.22,630.51 L351.31,631.72 L351.4,632.93 L351.5,634.13 L351.6,635.34 L351.71,636.55 L351.83,637.75 L351.96,638.96 L352.09,640.17 L352.23,641.37 L352.38,642.58 L352.54,643.79 L352.71,644.99 L352.89,646.2 L353.08,647.4 L353.28,648.61 L353.5,649.82 L353.73,651.02 L353.97,652.23 L354.23,653.44 L354.5,654.64 L354.79,655.85 L355.09,657.06 L355.42,658.26 L355.75,659.47 L356.11,660.67 L356.49,661.88 L356.89,663.09 L357.3,664.29 L357.74,665.5 L358.2,666.71 L358.67,667.91 L359.17,669.12 L359.69,670.33 L360.22,671.53 L360.78,672.74 L361.35,673.95 L361.94,675.15 L362.55,676.36 L363.16,677.57 L363.79,678.77 L364.43,679.98 L365.07,681.18 L365.71,682.39 L366.35,683.6 L366.98,684.8 L367.61,686.01 L368.22,687.22 L368.81,688.42 L369.38,689.63 L369.92,690.84 L370.43,692.04 L370.9,693.25 L371.32,694.45 L371.7,695.66 L372.03,696.87 L372.3,698.07 L372.52,699.28 L372.67,700.49 L372.77,701.69 L372.8,702.9 L372.74,704.1 L372.57,705.31 L372.3,706.51 L371.91,707.72 L371.43,708.92 L370.85,710.13 L370.19,711.33 L369.45,712.53 L368.64,713.74 L367.78,714.94 L366.87,716.15 L365.93,717.35 L364.97,718.56 L363.99,719.76 L363.01,720.96 L362.03,722.17 L361.08,723.37 L360.14,724.58 L359.23,725.78 L358.37,726.99 L357.54,728.19 L356.75,729.39 L356.02,730.6 L355.33,731.8 L354.69,733.01 L354.11,734.21 L353.57,735.42 L353.08,736.62 L352.64,737.82 L352.24,739.03 L351.89,740.23 L351.58,741.44 L351.3,742.64 L351.06,743.85 L350.85,745.05 L350.66,746.25 L350.51,747.46 L350.37,748.66 L350.26,749.87 L350.16,751.07 L350.08,752.28 L350.01,753.48 L349.95,754.68 L349.9,755.89 L349.86,757.09 L349.83,758.3 L349.8,759.5 L349.78,760.71 L349.76,761.91 L349.75,763.11 L349.74,764.32 L349.73,765.52 L349.72,766.73 L349.72,767.93 L349.71,769.14 L349.71,770.34 L349.71,771.54 L349.71,772.75 L349.7,773.95 L349.7,775.16 L349.7,776.36 L349.7,777.57 L349.7,778.77 L349.7,779.97 L349.7,781.18 L349.7,782.38 L349.7,783.59 L349.7,784.79 L349.7,786 L349.7,787.2 L349.7,787.2 L349.7,786 L349.7,784.79 L349.7,783.59 L349.7,782.38 L349.7,781.18 L349.7,779.97 L349.7,778.77 L349.7,777.57 L349.7,776.36 L349.7,775.16 L349.7,773.95 L349.69,772.75 L349.69,771.54 L349.69,770.34 L349.69,769.14 L349.68,767.93 L349.68,766.73 L349.67,765.52 L349.66,764.32 L349.65,763.11 L349.64,761.91 L349.62,760.71 L349.6,759.5 L349.57,758.3 L349.54,757.09 L349.5,755.89 L349.45,754.68 L349.39,753.48 L349.32,752.28 L349.24,751.07 L349.14,749.87 L349.03,748.66 L348.89,747.46 L348.74,746.25 L348.55,745.05 L348.34,743.85 L348.1,742.64 L347.82,741.44 L347.51,740.23 L347.16,739.03 L346.76,737.82 L346.32,736.62 L345.83,735.42 L345.29,734.21 L344.71,733.01 L344.07,731.8 L343.38,730.6 L342.65,729.39 L341.86,728.19 L341.03,726.99 L340.17,725.78 L339.26,724.58 L338.32,723.37 L337.37,722.17 L336.39,720.96 L335.41,719.76 L334.43,718.56 L333.47,717.35 L332.53,716.15 L331.62,714.94 L330.76,713.74 L329.95,712.53 L329.21,711.33 L328.55,710.13 L327.97,708.92 L327.49,707.72 L327.1,706.51 L326.83,705.31 L326.66,704.1 L326.6,702.9 L326.63,701.69 L326.73,700.49 L326.88,699.28 L327.1,698.07 L327.37,696.87 L327.7,695.66 L328.08,694.45 L328.5,693.25 L328.97,692.04 L329.48,690.84 L330.02,689.63 L330.59,688.42 L331.18,687.22 L331.79,686.01 L332.42,684.8 L333.05,683.6 L333.69,682.39 L334.33,681.18 L334.97,679.98 L335.61,678.77 L336.24,677.57 L336.85,676.36 L337.46,675.15 L338.05,673.95 L338.62,672.74 L339.18,671.53 L339.71,670.33 L340.23,669.12 L340.73,667.91 L341.2,666.71 L341.66,665.5 L342.1,664.29 L342.51,663.09 L342.91,661.88 L343.29,660.67 L343.65,659.47 L343.98,658.26 L344.31,657.06 L344.61,655.85 L344.9,654.64 L345.17,653.44 L345.43,652.23 L345.67,651.02 L345.9,649.82 L346.12,648.61 L346.32,647.4 L346.51,646.2 L346.69,644.99 L346.86,643.79 L347.02,642.58 L347.17,641.37 L347.31,640.17 L347.44,638.96 L347.57,637.75 L347.69,636.55 L347.8,635.34 L347.9,634.13 L348,632.93 L348.09,631.72 L348.18,630.51 L348.26,629.31 L348.34,628.1 L348.41,626.89 L348.48,625.69 L348.54,624.48 L348.6,623.28 L348.66,622.07 L348.71,620.86 L348.76,619.66 L348.81,618.45Z" fill="#9B78A6" stroke="#1C1C1C" stroke-width="1.45" stroke-linejoin="round"/>
<line x1="349.7" x2="349.7" y1="644.7" y2="754.1" stroke="#1C1C1C" stroke-width="1.25"/>
<rect x="346.3" y="684.6" width="6.8" height="29.2" fill="#7B3F92" stroke="#1C1C1C" stroke-width="1.3"/>
<line x1="346.3" x2="353.1" y1="700.1" y2="700.1" stroke="#1C1C1C" stroke-width="2.3"/>
<line x1="349.7" x2="349.7" y1="618.45" y2="642.45" stroke="#262626" stroke-width="5.5" stroke-linecap="round"/>
<line x1="349.7" x2="349.7" y1="756.35" y2="778.85" stroke="#262626" stroke-width="5.5" stroke-linecap="round"/>
<circle cx="349.7" cy="787.2" r="2.75" fill="#262626"/>
<path d="M403.31,618.45 L403.36,619.63 L403.41,620.82 L403.47,622 L403.53,623.19 L403.6,624.38 L403.67,625.56 L403.74,626.75 L403.82,627.93 L403.9,629.12 L403.98,630.3 L404.08,631.49 L404.17,632.67 L404.27,633.86 L404.38,635.04 L404.5,636.23 L404.62,637.41 L404.75,638.6 L404.89,639.78 L405.03,640.97 L405.18,642.15 L405.35,643.34 L405.52,644.52 L405.7,645.71 L405.89,646.89 L406.09,648.08 L406.31,649.26 L406.53,650.45 L406.77,651.63 L407.02,652.82 L407.29,654 L407.57,655.19 L407.86,656.37 L408.17,657.56 L408.49,658.74 L408.83,659.92 L409.18,661.11 L409.55,662.29 L409.94,663.48 L410.34,664.66 L410.76,665.85 L411.19,667.03 L411.64,668.22 L412.1,669.4 L412.58,670.59 L413.07,671.77 L413.58,672.96 L414.09,674.14 L414.62,675.33 L415.15,676.51 L415.69,677.7 L416.23,678.88 L416.78,680.07 L417.32,681.25 L417.85,682.44 L418.38,683.62 L418.9,684.81 L419.4,686 L419.89,687.18 L420.35,688.37 L420.79,689.55 L421.2,690.74 L421.58,691.92 L421.92,693.11 L422.23,694.29 L422.49,695.48 L422.7,696.66 L422.88,697.85 L423,699.03 L423.07,700.22 L423.1,701.4 L423.05,702.63 L422.91,703.85 L422.67,705.08 L422.34,706.3 L421.93,707.53 L421.43,708.75 L420.87,709.98 L420.23,711.21 L419.54,712.43 L418.8,713.66 L418.01,714.88 L417.2,716.11 L416.36,717.33 L415.5,718.56 L414.65,719.79 L413.79,721.01 L412.94,722.24 L412.11,723.46 L411.31,724.69 L410.53,725.91 L409.78,727.14 L409.07,728.37 L408.4,729.59 L407.77,730.82 L407.18,732.04 L406.64,733.27 L406.14,734.49 L405.68,735.72 L405.26,736.95 L404.88,738.17 L404.54,739.4 L404.24,740.62 L403.97,741.85 L403.73,743.07 L403.52,744.3 L403.33,745.53 L403.17,746.75 L403.03,747.98 L402.91,749.2 L402.81,750.43 L402.72,751.65 L402.65,752.88 L402.59,754.11 L402.53,755.33 L402.49,756.56 L402.45,757.78 L402.42,759.01 L402.4,760.23 L402.38,761.46 L402.36,762.69 L402.35,763.91 L402.34,765.14 L402.33,766.36 L402.32,767.59 L402.32,768.81 L402.31,770.04 L402.31,771.27 L402.31,772.49 L402.31,773.72 L402.3,774.94 L402.3,776.17 L402.3,777.39 L402.3,778.62 L402.3,779.85 L402.3,781.07 L402.3,782.3 L402.3,783.52 L402.3,784.75 L402.3,785.97 L402.3,787.2 L402.3,787.2 L402.3,785.97 L402.3,784.75 L402.3,783.52 L402.3,782.3 L402.3,781.07 L402.3,779.85 L402.3,778.62 L402.3,777.39 L402.3,776.17 L402.3,774.94 L402.29,773.72 L402.29,772.49 L402.29,771.27 L402.29,770.04 L402.28,768.81 L402.28,767.59 L402.27,766.36 L402.26,765.14 L402.25,763.91 L402.24,762.69 L402.22,761.46 L402.2,760.23 L402.18,759.01 L402.15,757.78 L402.11,756.56 L402.07,755.33 L402.01,754.11 L401.95,752.88 L401.88,751.65 L401.79,750.43 L401.69,749.2 L401.57,747.98 L401.43,746.75 L401.27,745.53 L401.08,744.3 L400.87,743.07 L400.63,741.85 L400.36,740.62 L400.06,739.4 L399.72,738.17 L399.34,736.95 L398.92,735.72 L398.46,734.49 L397.96,733.27 L397.42,732.04 L396.83,730.82 L396.2,729.59 L395.53,728.37 L394.82,727.14 L394.07,725.91 L393.29,724.69 L392.49,723.46 L391.66,722.24 L390.81,721.01 L389.95,719.79 L389.1,718.56 L388.24,717.33 L387.4,716.11 L386.59,714.88 L385.8,713.66 L385.06,712.43 L384.37,711.21 L383.73,709.98 L383.17,708.75 L382.67,707.53 L382.26,706.3 L381.93,705.08 L381.69,703.85 L381.55,702.63 L381.5,701.4 L381.53,700.22 L381.6,699.03 L381.72,697.85 L381.9,696.66 L382.11,695.48 L382.37,694.29 L382.68,693.11 L383.02,691.92 L383.4,690.74 L383.81,689.55 L384.25,688.37 L384.71,687.18 L385.2,686 L385.7,684.81 L386.22,683.62 L386.75,682.44 L387.28,681.25 L387.82,680.07 L388.37,678.88 L388.91,677.7 L389.45,676.51 L389.98,675.33 L390.51,674.14 L391.02,672.96 L391.53,671.77 L392.02,670.59 L392.5,669.4 L392.96,668.22 L393.41,667.03 L393.84,665.85 L394.26,664.66 L394.66,663.48 L395.05,662.29 L395.42,661.11 L395.77,659.92 L396.11,658.74 L396.43,657.56 L396.74,656.37 L397.03,655.19 L397.31,654 L397.58,652.82 L397.83,651.63 L398.07,650.45 L398.29,649.26 L398.51,648.08 L398.71,646.89 L398.9,645.71 L399.08,644.52 L399.25,643.34 L399.42,642.15 L399.57,640.97 L399.71,639.78 L399.85,638.6 L399.98,637.41 L400.1,636.23 L400.22,635.04 L400.33,633.86 L400.43,632.67 L400.52,631.49 L400.62,630.3 L400.7,629.12 L400.78,627.93 L400.86,626.75 L400.93,625.56 L401,624.38 L401.07,623.19 L401.13,622 L401.19,620.82 L401.24,619.63 L401.29,618.45Z" fill="#F3E77F" stroke="#1C1C1C" stroke-width="1.45" stroke-linejoin="round"/>
<line x1="402.3" x2="402.3" y1="640.1" y2="755.7" stroke="#1C1C1C" stroke-width="1.25"/>
<rect x="398.9" y="682.7" width="6.8" height="29.5" fill="#F8E64C" stroke="#1C1C1C" stroke-width="1.3"/>
<line x1="398.9" x2="405.7" y1="698.3" y2="698.3" stroke="#1C1C1C" stroke-width="2.3"/>
<line x1="402.3" x2="402.3" y1="618.45" y2="637.85" stroke="#262626" stroke-width="5.5" stroke-linecap="round"/>
<line x1="402.3" x2="402.3" y1="757.95" y2="778.85" stroke="#262626" stroke-width="5.5" stroke-linecap="round"/>
<circle cx="402.3" cy="787.2" r="2.75" fill="#262626"/>
<path d="M467.34,622.05 L467.38,623.23 L467.42,624.41 L467.46,625.6 L467.5,626.78 L467.55,627.96 L467.6,629.14 L467.66,630.32 L467.71,631.51 L467.78,632.69 L467.84,633.87 L467.91,635.05 L467.99,636.24 L468.07,637.42 L468.15,638.6 L468.25,639.78 L468.35,640.96 L468.45,642.15 L468.56,643.33 L468.69,644.51 L468.82,645.69 L468.96,646.88 L469.11,648.06 L469.27,649.24 L469.44,650.42 L469.62,651.6 L469.82,652.79 L470.03,653.97 L470.26,655.15 L470.5,656.33 L470.76,657.51 L471.04,658.7 L471.34,659.88 L471.65,661.06 L471.99,662.24 L472.35,663.42 L472.74,664.61 L473.15,665.79 L473.59,666.97 L474.05,668.15 L474.54,669.34 L475.06,670.52 L475.62,671.7 L476.2,672.88 L476.81,674.06 L477.45,675.25 L478.12,676.43 L478.82,677.61 L479.54,678.79 L480.3,679.97 L481.08,681.16 L481.87,682.34 L482.69,683.52 L483.52,684.7 L484.36,685.89 L485.2,687.07 L486.04,688.25 L486.87,689.43 L487.68,690.61 L488.47,691.8 L489.23,692.98 L489.95,694.16 L490.62,695.34 L491.23,696.52 L491.78,697.71 L492.26,698.89 L492.66,700.07 L492.98,701.25 L493.21,702.44 L493.35,703.62 L493.4,704.8 L493.34,705.87 L493.17,706.95 L492.89,708.02 L492.5,709.1 L492.01,710.17 L491.42,711.25 L490.74,712.32 L489.97,713.39 L489.14,714.47 L488.24,715.54 L487.3,716.62 L486.3,717.69 L485.28,718.77 L484.23,719.84 L483.18,720.91 L482.12,721.99 L481.06,723.06 L480.02,724.14 L479.01,725.21 L478.02,726.29 L477.07,727.36 L476.15,728.43 L475.28,729.51 L474.46,730.58 L473.68,731.66 L472.96,732.73 L472.29,733.81 L471.67,734.88 L471.09,735.95 L470.57,737.03 L470.1,738.1 L469.67,739.18 L469.28,740.25 L468.94,741.33 L468.63,742.4 L468.36,743.47 L468.12,744.55 L467.91,745.62 L467.72,746.7 L467.56,747.77 L467.42,748.85 L467.31,749.92 L467.21,750.99 L467.12,752.07 L467.05,753.14 L466.99,754.22 L466.93,755.29 L466.89,756.37 L466.85,757.44 L466.83,758.51 L466.8,759.59 L466.78,760.66 L466.76,761.74 L466.75,762.81 L466.74,763.89 L466.73,764.96 L466.73,766.03 L466.72,767.11 L466.72,768.18 L466.71,769.26 L466.71,770.33 L466.71,771.41 L466.71,772.48 L466.7,773.55 L466.7,774.63 L466.7,775.7 L466.7,776.78 L466.7,777.85 L466.7,778.93 L466.7,780 L466.7,780 L466.7,778.93 L466.7,777.85 L466.7,776.78 L466.7,775.7 L466.7,774.63 L466.7,773.55 L466.69,772.48 L466.69,771.41 L466.69,770.33 L466.69,769.26 L466.68,768.18 L466.68,767.11 L466.67,766.03 L466.67,764.96 L466.66,763.89 L466.65,762.81 L466.64,761.74 L466.62,760.66 L466.6,759.59 L466.57,758.51 L466.55,757.44 L466.51,756.37 L466.47,755.29 L466.41,754.22 L466.35,753.14 L466.28,752.07 L466.19,750.99 L466.09,749.92 L465.98,748.85 L465.84,747.77 L465.68,746.7 L465.49,745.62 L465.28,744.55 L465.04,743.47 L464.77,742.4 L464.46,741.33 L464.12,740.25 L463.73,739.18 L463.3,738.1 L462.83,737.03 L462.31,735.95 L461.73,734.88 L461.11,733.81 L460.44,732.73 L459.72,731.66 L458.94,730.58 L458.12,729.51 L457.25,728.43 L456.33,727.36 L455.38,726.29 L454.39,725.21 L453.38,724.14 L452.34,723.06 L451.28,721.99 L450.22,720.91 L449.17,719.84 L448.12,718.77 L447.1,717.69 L446.1,716.62 L445.16,715.54 L444.26,714.47 L443.43,713.39 L442.66,712.32 L441.98,711.25 L441.39,710.17 L440.9,709.1 L440.51,708.02 L440.23,706.95 L440.06,705.87 L440,704.8 L440.05,703.62 L440.19,702.44 L440.42,701.25 L440.74,700.07 L441.14,698.89 L441.62,697.71 L442.17,696.52 L442.78,695.34 L443.45,694.16 L444.17,692.98 L444.93,691.8 L445.72,690.61 L446.53,689.43 L447.36,688.25 L448.2,687.07 L449.04,685.89 L449.88,684.7 L450.71,683.52 L451.53,682.34 L452.32,681.16 L453.1,679.97 L453.86,678.79 L454.58,677.61 L455.28,676.43 L455.95,675.25 L456.59,674.06 L457.2,672.88 L457.78,671.7 L458.34,670.52 L458.86,669.34 L459.35,668.15 L459.81,666.97 L460.25,665.79 L460.66,664.61 L461.05,663.42 L461.41,662.24 L461.75,661.06 L462.06,659.88 L462.36,658.7 L462.64,657.51 L462.9,656.33 L463.14,655.15 L463.37,653.97 L463.58,652.79 L463.78,651.6 L463.96,650.42 L464.13,649.24 L464.29,648.06 L464.44,646.88 L464.58,645.69 L464.71,644.51 L464.84,643.33 L464.95,642.15 L465.05,640.96 L465.15,639.78 L465.25,638.6 L465.33,637.42 L465.41,636.24 L465.49,635.05 L465.56,633.87 L465.62,632.69 L465.69,631.51 L465.74,630.32 L465.8,629.14 L465.85,627.96 L465.9,626.78 L465.94,625.6 L465.98,624.41 L466.02,623.23 L466.06,622.05Z" fill="#9B78A6" stroke="#1C1C1C" stroke-width="1.45" stroke-linejoin="round"/>
<line x1="466.7" x2="466.7" y1="655.2" y2="749.8" stroke="#1C1C1C" stroke-width="1.25"/>
<rect x="463.3" y="690.1" width="6.8" height="24.8" fill="#7B3F92" stroke="#1C1C1C" stroke-width="1.3"/>
<line x1="463.3" x2="470.1" y1="703.3" y2="703.3" stroke="#1C1C1C" stroke-width="2.3"/>
<line x1="466.7" x2="466.7" y1="622.05" y2="652.95" stroke="#262626" stroke-width="5.5" stroke-linecap="round"/>
<line x1="466.7" x2="466.7" y1="752.05" y2="774.05" stroke="#262626" stroke-width="5.5" stroke-linecap="round"/>
<circle cx="466.7" cy="780" r="2.75" fill="#262626"/>
<path d="M520.06,623.25 L520.1,624.39 L520.15,625.54 L520.2,626.68 L520.25,627.82 L520.3,628.97 L520.36,630.11 L520.42,631.25 L520.48,632.4 L520.55,633.54 L520.63,634.69 L520.71,635.83 L520.79,636.97 L520.88,638.12 L520.98,639.26 L521.08,640.4 L521.19,641.55 L521.3,642.69 L521.43,643.83 L521.56,644.98 L521.7,646.12 L521.85,647.26 L522.01,648.41 L522.18,649.55 L522.37,650.7 L522.56,651.84 L522.77,652.98 L522.99,654.13 L523.23,655.27 L523.48,656.41 L523.75,657.56 L524.03,658.7 L524.33,659.84 L524.66,660.99 L525,662.13 L525.36,663.27 L525.74,664.42 L526.15,665.56 L526.58,666.71 L527.03,667.85 L527.51,668.99 L528.01,670.14 L528.54,671.28 L529.09,672.42 L529.66,673.57 L530.26,674.71 L530.88,675.85 L531.53,677 L532.19,678.14 L532.88,679.28 L533.58,680.43 L534.29,681.57 L535.01,682.72 L535.74,683.86 L536.48,685 L537.21,686.15 L537.93,687.29 L538.65,688.43 L539.34,689.58 L540.01,690.72 L540.65,691.86 L541.25,693.01 L541.81,694.15 L542.32,695.29 L542.77,696.44 L543.17,697.58 L543.5,698.73 L543.76,699.87 L543.95,701.01 L544.06,702.16 L544.1,703.3 L544.05,704.4 L543.9,705.49 L543.66,706.59 L543.33,707.68 L542.9,708.78 L542.39,709.87 L541.8,710.97 L541.14,712.07 L540.42,713.16 L539.64,714.26 L538.81,715.35 L537.94,716.45 L537.04,717.54 L536.11,718.64 L535.17,719.74 L534.23,720.83 L533.28,721.93 L532.35,723.02 L531.42,724.12 L530.52,725.21 L529.64,726.31 L528.8,727.41 L527.99,728.5 L527.22,729.6 L526.48,730.69 L525.79,731.79 L525.14,732.88 L524.54,733.98 L523.98,735.08 L523.46,736.17 L522.99,737.27 L522.56,738.36 L522.16,739.46 L521.81,740.55 L521.49,741.65 L521.2,742.75 L520.94,743.84 L520.72,744.94 L520.52,746.03 L520.34,747.13 L520.19,748.22 L520.05,749.32 L519.93,750.42 L519.83,751.51 L519.75,752.61 L519.67,753.7 L519.61,754.8 L519.56,755.89 L519.51,756.99 L519.47,758.09 L519.44,759.18 L519.42,760.28 L519.39,761.37 L519.38,762.47 L519.36,763.56 L519.35,764.66 L519.34,765.76 L519.33,766.85 L519.32,767.95 L519.32,769.04 L519.32,770.14 L519.31,771.23 L519.31,772.33 L519.31,773.43 L519.31,774.52 L519.3,775.62 L519.3,776.71 L519.3,777.81 L519.3,778.9 L519.3,780 L519.3,780 L519.3,778.9 L519.3,777.81 L519.3,776.71 L519.3,775.62 L519.29,774.52 L519.29,773.43 L519.29,772.33 L519.29,771.23 L519.28,770.14 L519.28,769.04 L519.28,767.95 L519.27,766.85 L519.26,765.76 L519.25,764.66 L519.24,763.56 L519.22,762.47 L519.21,761.37 L519.18,760.28 L519.16,759.18 L519.13,758.09 L519.09,756.99 L519.04,755.89 L518.99,754.8 L518.93,753.7 L518.85,752.61 L518.77,751.51 L518.67,750.42 L518.55,749.32 L518.41,748.22 L518.26,747.13 L518.08,746.03 L517.88,744.94 L517.66,743.84 L517.4,742.75 L517.11,741.65 L516.79,740.55 L516.44,739.46 L516.04,738.36 L515.61,737.27 L515.14,736.17 L514.62,735.08 L514.06,733.98 L513.46,732.88 L512.81,731.79 L512.12,730.69 L511.38,729.6 L510.61,728.5 L509.8,727.41 L508.96,726.31 L508.08,725.21 L507.18,724.12 L506.25,723.02 L505.32,721.93 L504.37,720.83 L503.43,719.74 L502.49,718.64 L501.56,717.54 L500.66,716.45 L499.79,715.35 L498.96,714.26 L498.18,713.16 L497.46,712.07 L496.8,710.97 L496.21,709.87 L495.7,708.78 L495.27,707.68 L494.94,706.59 L494.7,705.49 L494.55,704.4 L494.5,703.3 L494.54,702.16 L494.65,701.01 L494.84,699.87 L495.1,698.73 L495.43,697.58 L495.83,696.44 L496.28,695.29 L496.79,694.15 L497.35,693.01 L497.95,691.86 L498.59,690.72 L499.26,689.58 L499.95,688.43 L500.67,687.29 L501.39,686.15 L502.12,685 L502.86,683.86 L503.59,682.72 L504.31,681.57 L505.02,680.43 L505.72,679.28 L506.41,678.14 L507.07,677 L507.72,675.85 L508.34,674.71 L508.94,673.57 L509.51,672.42 L510.06,671.28 L510.59,670.14 L511.09,668.99 L511.57,667.85 L512.02,666.71 L512.45,665.56 L512.86,664.42 L513.24,663.27 L513.6,662.13 L513.94,660.99 L514.27,659.84 L514.57,658.7 L514.85,657.56 L515.12,656.41 L515.37,655.27 L515.61,654.13 L515.83,652.98 L516.04,651.84 L516.23,650.7 L516.42,649.55 L516.59,648.41 L516.75,647.26 L516.9,646.12 L517.04,644.98 L517.17,643.83 L517.3,642.69 L517.41,641.55 L517.52,640.4 L517.62,639.26 L517.72,638.12 L517.81,636.97 L517.89,635.83 L517.97,634.69 L518.05,633.54 L518.12,632.4 L518.18,631.25 L518.24,630.11 L518.3,628.97 L518.35,627.82 L518.4,626.68 L518.45,625.54 L518.5,624.39 L518.54,623.25Z" fill="#F3E77F" stroke="#1C1C1C" stroke-width="1.45" stroke-linejoin="round"/>
<line x1="519.3" x2="519.3" y1="651.3" y2="751.4" stroke="#1C1C1C" stroke-width="1.25"/>
<rect x="515.9" y="688.5" width="6.8" height="25.6" fill="#F8E64C" stroke="#1C1C1C" stroke-width="1.3"/>
<line x1="515.9" x2="522.7" y1="702" y2="702" stroke="#1C1C1C" stroke-width="2.3"/>
<line x1="519.3" x2="519.3" y1="623.25" y2="649.05" stroke="#262626" stroke-width="5.5" stroke-linecap="round"/>
<line x1="519.3" x2="519.3" y1="753.65" y2="774.05" stroke="#262626" stroke-width="5.5" stroke-linecap="round"/>
<circle cx="519.3" cy="780" r="2.75" fill="#262626"/>
</g>
<g clip-path="url(#clipB11)">
<rect x="366.78" y="609.1" width="3.1" height="3.1" rx="0.7" fill="#151515"/>
<rect x="371.84" y="609.1" width="3.1" height="3.1" rx="0.7" fill="#151515"/>
<rect x="376.9" y="609.1" width="3.1" height="3.1" rx="0.7" fill="#151515"/>
<rect x="381.96" y="609.1" width="3.1" height="3.1" rx="0.7" fill="#151515"/>
</g>
<g clip-path="url(#clipB11)">
<rect x="486.17" y="609.1" width="3.1" height="3.1" rx="0.7" fill="#151515"/>
<rect x="491.23" y="609.1" width="3.1" height="3.1" rx="0.7" fill="#151515"/>
<rect x="496.29" y="609.1" width="3.1" height="3.1" rx="0.7" fill="#151515"/>
</g>
<line x1="375.92" x2="375.92" y1="802" y2="805.1" stroke="#1F1F1F" stroke-width="1.4"/>
<text x="375.92" y="815.8" font-size="10.3" fill="#4D4D4D" stroke="#4D4D4D" stroke-width="0.25" text-anchor="middle" font-weight="normal" >GBR</text>
<line x1="492.78" x2="492.78" y1="802" y2="805.1" stroke="#1F1F1F" stroke-width="1.4"/>
<text x="492.78" y="815.8" font-size="10.3" fill="#4D4D4D" stroke="#4D4D4D" stroke-width="0.25" text-anchor="middle" font-weight="normal" >YRI</text>
<line x1="39.0" x2="42.1" y1="658" y2="658" stroke="#1F1F1F" stroke-width="1.4"/>
<text x="36.3" y="662.3" font-size="10.3" fill="#4D4D4D" stroke="#4D4D4D" stroke-width="0.25" text-anchor="end" font-weight="normal" >0.5</text>
<line x1="39.0" x2="42.1" y1="712.6" y2="712.6" stroke="#1F1F1F" stroke-width="1.4"/>
<text x="36.3" y="716.9" font-size="10.3" fill="#4D4D4D" stroke="#4D4D4D" stroke-width="0.25" text-anchor="end" font-weight="normal" >0.0</text>
<rect x="16.3" y="767.3" width="4.6" height="1.2" fill="#4D4D4D"/>
<line x1="39.0" x2="42.1" y1="767.2" y2="767.2" stroke="#1F1F1F" stroke-width="1.4"/>
<text x="36.3" y="771.5" font-size="10.3" fill="#4D4D4D" stroke="#4D4D4D" stroke-width="0.25" text-anchor="end" font-weight="normal" >0.5</text>
<text x="302.45" y="830.4" font-size="12.75" fill="#000" stroke="#000" stroke-width="0.25" text-anchor="middle" font-weight="normal" >Geuvadis populations</text>
<text transform="translate(9.9,595.2) rotate(-90)" x="0" y="0" font-size="12.75" fill="#000" stroke="#000" stroke-width="0.25" text-anchor="middle">Spearman correlation</text>
<text x="582.4" y="576.3" font-size="12.75" fill="#000" stroke="#000" stroke-width="0.25" text-anchor="start" font-weight="normal" >Model</text>
<rect x="582" y="584.3" width="20.1" height="39.5" fill="#1B1822"/>
<rect x="583.8" y="586.3" width="7.3" height="2.4" fill="#B48BBF"/>
<rect x="583.8" y="600.1" width="7.3" height="2.5" fill="#B48BBF"/>
<rect x="593" y="586.3" width="7.3" height="2.4" fill="#B48BBF"/>
<rect x="593" y="600.1" width="7.3" height="2.5" fill="#B48BBF"/>
<rect x="585.1" y="590.1" width="14" height="3.5" fill="#8A42A0"/>
<rect x="585.1" y="595.1" width="14" height="3.2" fill="#8A42A0"/>
<text x="608.7" y="598.3" font-size="10.3" fill="#000" stroke="#000" stroke-width="0.25" text-anchor="start" font-weight="normal" >EN</text>
<rect x="583.8" y="606.05" width="7.3" height="2.4" fill="#F3EA8C"/>
<rect x="583.8" y="619.85" width="7.3" height="2.5" fill="#F3EA8C"/>
<rect x="593" y="606.05" width="7.3" height="2.4" fill="#F3EA8C"/>
<rect x="593" y="619.85" width="7.3" height="2.5" fill="#F3EA8C"/>
<rect x="585.1" y="609.85" width="14" height="3.5" fill="#F7E946"/>
<rect x="585.1" y="614.85" width="14" height="3.2" fill="#F7E946"/>
<text x="608.7" y="618.05" font-size="10.3" fill="#000" stroke="#000" stroke-width="0.25" text-anchor="start" font-weight="normal" >MASHR</text>
</svg></body></html>
